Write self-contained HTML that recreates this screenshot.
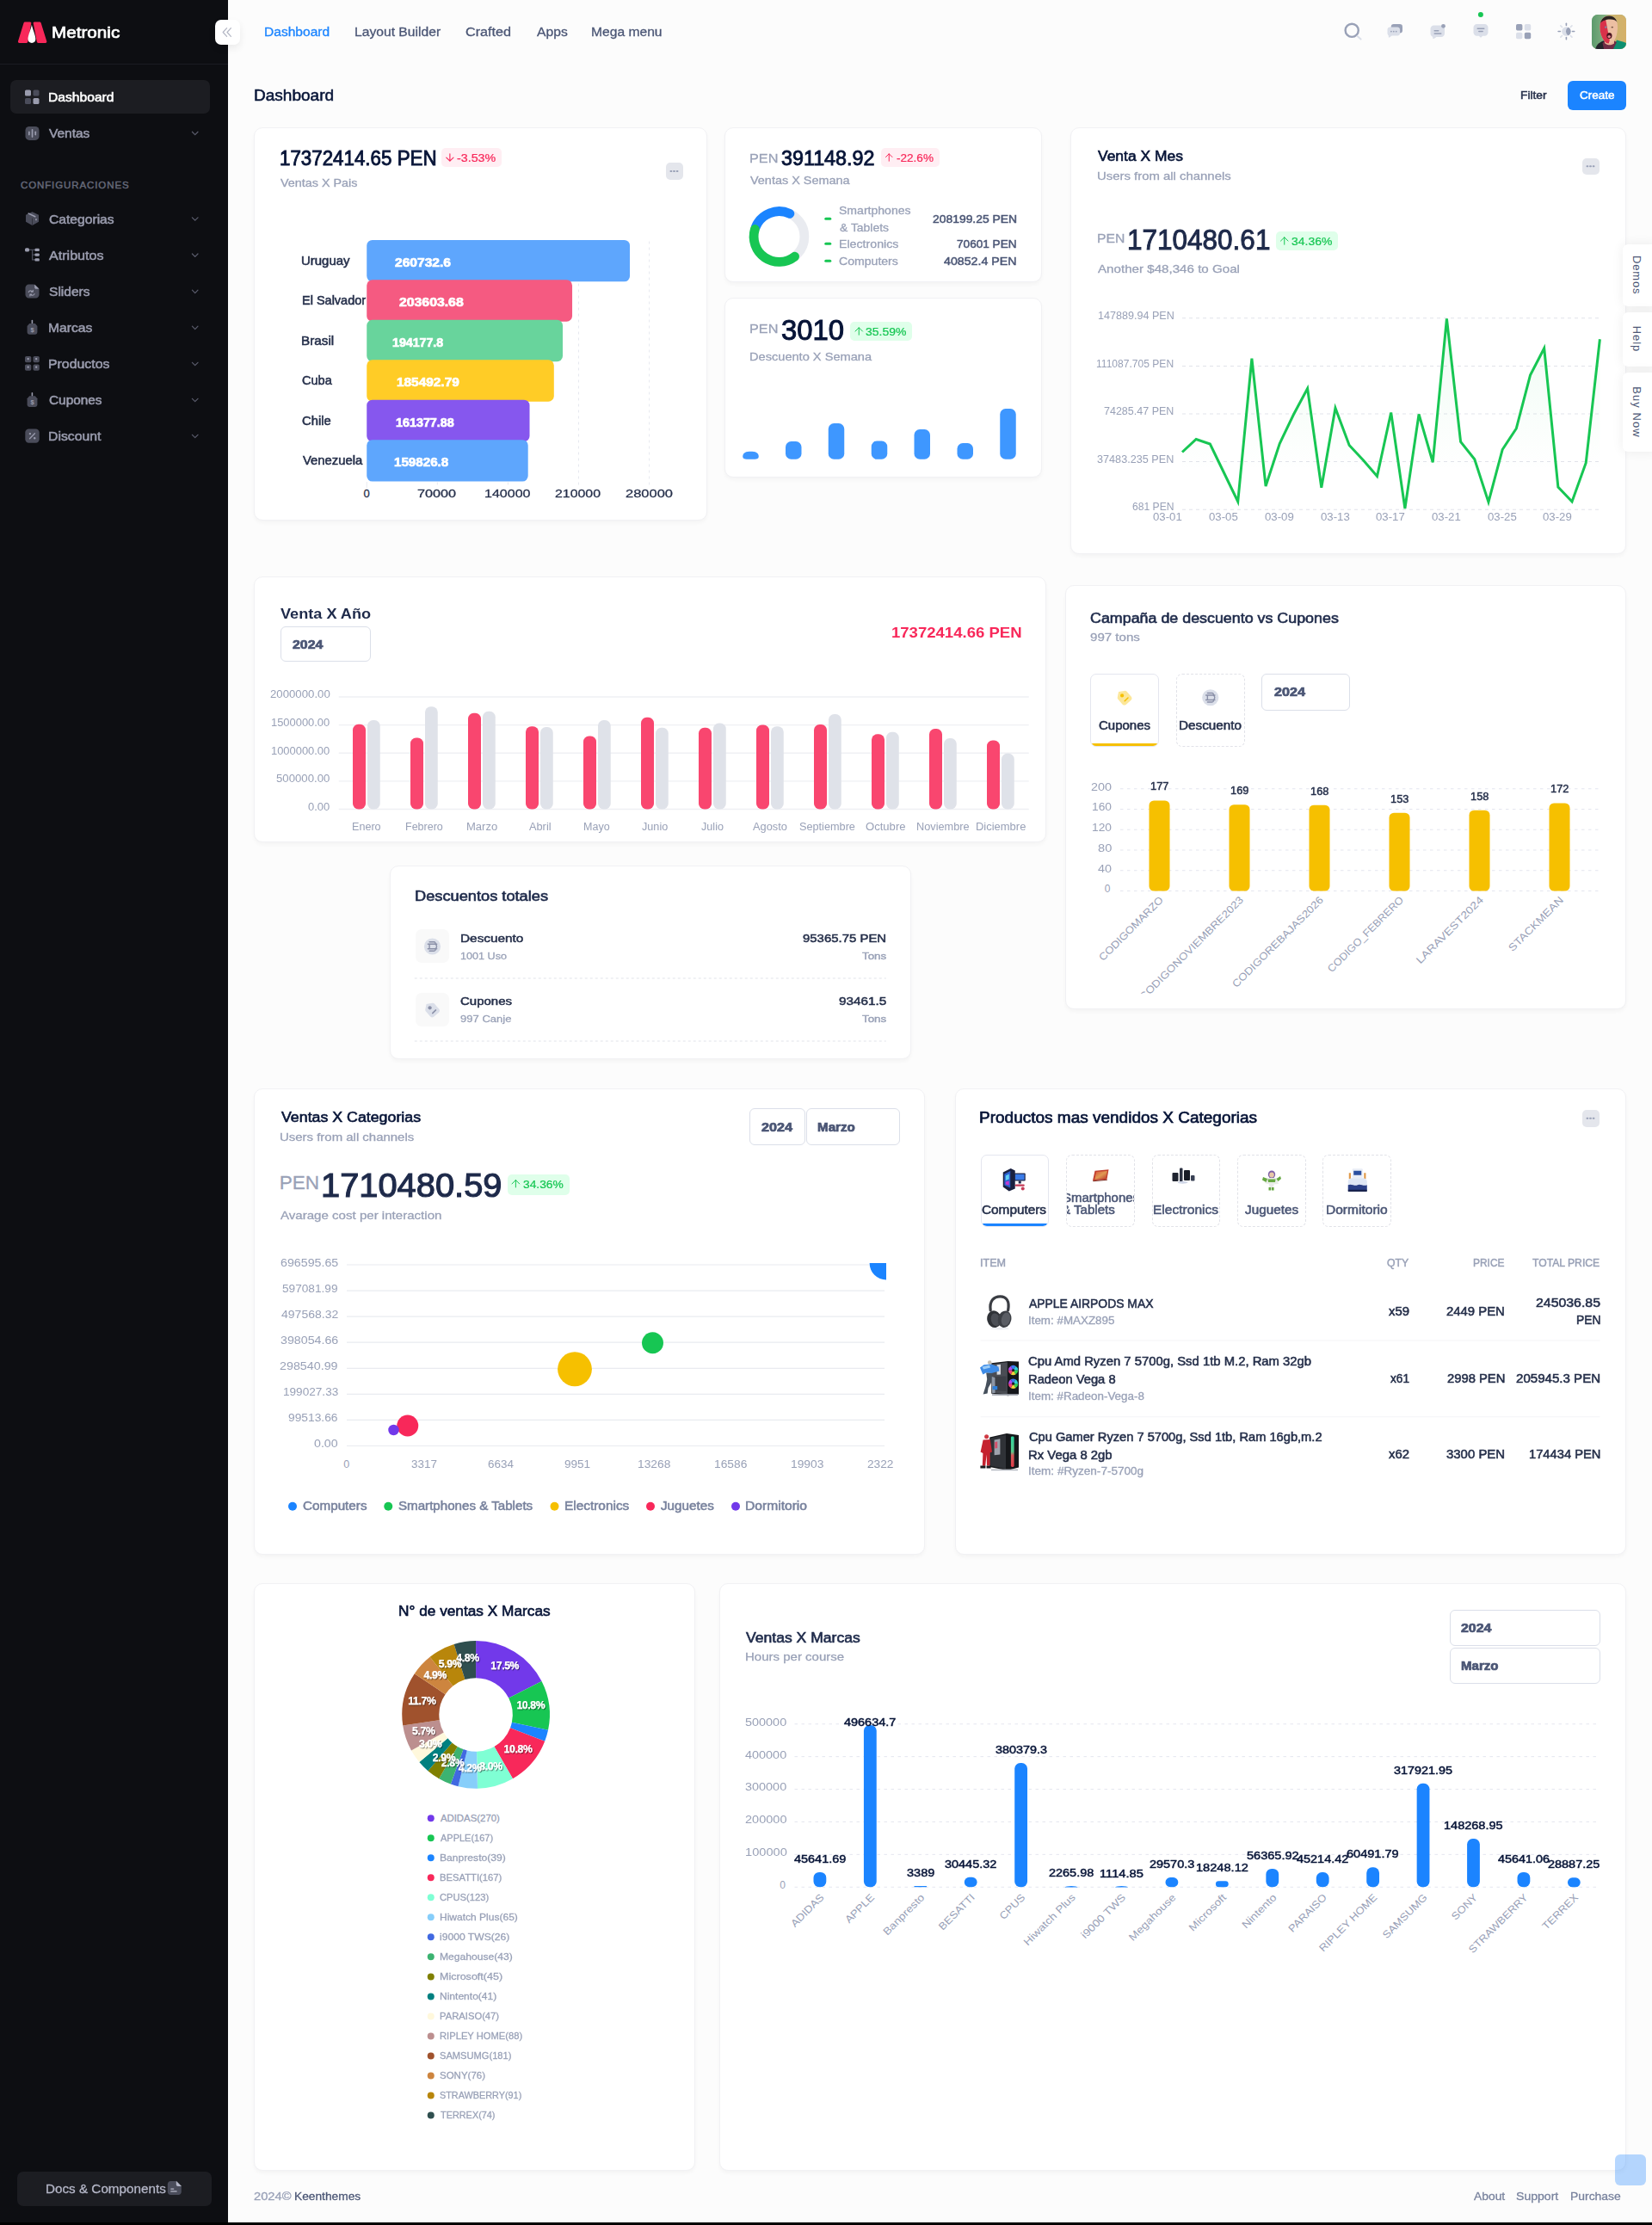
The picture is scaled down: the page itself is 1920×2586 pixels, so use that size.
<!DOCTYPE html>
<html lang="en">
<head>
<meta charset="utf-8">
<title>Metronic Dashboard</title>
<style>
*{box-sizing:border-box;margin:0;padding:0}
html,body{width:1920px;height:2586px;overflow:hidden}
body{font-family:"Liberation Sans",sans-serif;background:#fcfcfc;color:#071437;font-size:13px;position:relative}
.abs{position:absolute}
.t{position:absolute;white-space:nowrap;line-height:1;z-index:2}
#sidebar{position:absolute;left:0;top:0;width:265px;height:2583px;background:#0d0e12}
#bottomstrip{position:absolute;left:0;top:2583px;width:1920px;height:3px;background:#000}
.card{position:absolute;background:#fff;border:1px solid #f1f1f4;border-radius:10px;box-shadow:0 3px 4px 0 rgba(0,0,0,.03)}
svg{position:absolute;overflow:visible}
svg text{font-family:"Liberation Sans",sans-serif}
#gfx{left:0;top:0;z-index:1;pointer-events:none}
</style>
</head>
<body>
<div id="sidebar"></div>

<div class="card" style="left:295px;top:148px;width:527px;height:457px"></div>
<div class="card" style="left:842px;top:148px;width:369px;height:179.5px"></div>
<div class="card" style="left:842px;top:345.5px;width:369px;height:209.5px"></div>
<div class="card" style="left:1244px;top:148px;width:646px;height:495.5px"></div>
<div class="card" style="left:295px;top:670px;width:921px;height:309px"></div>
<div class="card" style="left:453px;top:1006px;width:606px;height:225px"></div>
<div class="card" style="left:1237.5px;top:680px;width:652.5px;height:492.5px"></div>
<div class="card" style="left:295px;top:1265px;width:780px;height:542px"></div>
<div class="card" style="left:1110px;top:1265px;width:780px;height:542px"></div>
<div class="card" style="left:295px;top:1840px;width:513px;height:682.5px"></div>
<div class="card" style="left:836px;top:1840px;width:1054px;height:682.5px"></div>
<div class="abs" style="left:0.00px;top:74.00px;width:265.00px;height:1.00px;background:#1b1c22;"></div>
<div class="abs" style="left:11.50px;top:93.00px;width:232.50px;height:38.75px;background:#1c1d22;border-radius:7px;"></div>
<div class="abs" style="left:20.00px;top:2524.00px;width:226.00px;height:40.00px;background:#1c1d22;border-radius:7px;"></div>
<div class="abs" style="left:250.00px;top:22.50px;width:29.00px;height:29.00px;background:#fff;border-radius:7px;box-shadow:0 4px 10px rgba(0,0,0,.07);z-index:3"></div>
<div class="abs" style="left:1850px;top:17px;width:40px;height:40px;border-radius:7px;overflow:hidden;background:#7fae7b"><svg width="40" height="40" style="left:0;top:0"><defs><linearGradient id="avg" x1="0" y1="0" x2="1" y2="0"><stop offset="0" stop-color="#5c9a6c"/><stop offset="0.38" stop-color="#83b083"/><stop offset="0.55" stop-color="#c9b572"/><stop offset="1" stop-color="#d6b068"/></linearGradient><clipPath id="avh"><path d="M9.5 16C9 7 13.5 1.6 20.3 1.6C27 1.6 30.6 7 30 16C29.6 22 28.5 27 26 30.5C24.5 32.6 22.5 33.6 20 33.6C17.5 33.6 15.5 32.4 14 30C11.5 26.5 9.8 21.5 9.5 16Z"/></clipPath></defs><rect width="40" height="40" fill="url(#avg)"/><path d="M4 40C6 34 10 31.5 15 30L20 36L20 40Z" fill="#24242b"/><path d="M40 40V33C36 31 32 30.5 29 29.5L24 40Z" fill="#0d8f70"/><path d="M15 30.5L26 30.5L29 32L25 40H14L12.5 33Z" fill="#6e2c45"/><path d="M14.5 27H26V33.5C23 36 18 36 15 33Z" fill="#e7b497"/><g clip-path="url(#avh)"><rect x="5" y="0" width="30" height="36" fill="#ecbfa2"/><path d="M5 0H17.5L16.2 6L20.8 30L19 36H5Z" fill="#d9324a"/><path d="M8 8C9 1 15 -1 21 0.5C27 1.5 31 5 31 11C29 6.8 25.5 5.4 21 5.6C16 5.8 12 7 8 12Z" fill="#2b2320"/></g><ellipse cx="20.4" cy="24.4" rx="3.1" ry="3.5" fill="#4a1420"/><ellipse cx="20.2" cy="25.6" rx="1.7" ry="1.5" fill="#e88a92"/><circle cx="16.3" cy="14.6" r="1.2" fill="#7a8aa8"/><ellipse cx="23.8" cy="14.6" rx="1.3" ry="0.9" fill="#7a5a48"/></svg></div>
<div class="abs" style="left:1822.00px;top:94.25px;width:68.00px;height:33.50px;background:#1b84ff;border-radius:6px;"></div>
<div class="abs" style="left:1886px;top:283.75px;width:40px;height:71.75px;background:#fff;border-radius:6px 0 0 6px;box-shadow:0 0 14px rgba(0,0,0,.07);z-index:5"></div>
<div class="abs" style="left:1886px;top:362.5px;width:40px;height:63.0px;background:#fff;border-radius:6px 0 0 6px;box-shadow:0 0 14px rgba(0,0,0,.07);z-index:5"></div>
<div class="abs" style="left:1886px;top:433px;width:40px;height:92px;background:#fff;border-radius:6px 0 0 6px;box-shadow:0 0 14px rgba(0,0,0,.07);z-index:5"></div>
<div class="abs" style="left:1877px;top:2504px;width:36px;height:36px;border-radius:6px;background:rgba(27,132,255,.32);z-index:5"></div>
<div class="abs" style="left:512.50px;top:172.25px;width:70.00px;height:22.00px;background:#ffeef3;border-radius:5px;"></div>
<div class="abs" style="left:773.50px;top:189.25px;width:20.00px;height:19.50px;background:#e4e6ec;border-radius:5px;"></div>
<div class="abs" style="left:1023.75px;top:172.25px;width:67.75px;height:22.00px;background:#ffeef3;border-radius:5px;"></div>
<div class="abs" style="left:988.25px;top:374.25px;width:71.25px;height:22.00px;background:#dfffea;border-radius:5px;"></div>
<div class="abs" style="left:1838.50px;top:183.75px;width:20.00px;height:19.00px;background:#e4e6ec;border-radius:5px;"></div>
<div class="abs" style="left:1482.75px;top:268.75px;width:71.75px;height:22.50px;background:#dfffea;border-radius:5px;"></div>
<div class="abs" style="left:325.50px;top:727.50px;width:105.00px;height:41.75px;background:#fff;border:1px solid #dbdfe9;border-radius:6px;"></div>
<div class="abs" style="left:483.00px;top:1080.00px;width:39.00px;height:39.00px;background:#f9f9f9;border-radius:7px;"></div>
<div class="abs" style="left:483.00px;top:1154.25px;width:39.00px;height:39.00px;background:#f9f9f9;border-radius:7px;"></div>
<div class="abs" style="left:1267px;top:783px;width:79.5px;height:85px;background:#fff;border:1px solid #e4e6ef;border-radius:7px;overflow:hidden"><div style="position:absolute;left:-1px;right:-1px;bottom:-1px;height:4.5px;background:#f6c000"></div></div>
<div class="abs" style="left:1367px;top:783px;width:80px;height:85px;background:#fff;border:1px dashed #e1e2e8;border-radius:7px"></div>
<div class="abs" style="left:1466.00px;top:783.00px;width:102.50px;height:43.00px;background:#fff;border:1px solid #dbdfe9;border-radius:6px;"></div>
<div class="abs" style="left:870.50px;top:1288.25px;width:65.00px;height:42.50px;background:#fff;border:1px solid #dbdfe9;border-radius:6px;"></div>
<div class="abs" style="left:936.75px;top:1288.25px;width:108.75px;height:42.50px;background:#fff;border:1px solid #dbdfe9;border-radius:6px;"></div>
<div class="abs" style="left:590.00px;top:1365.00px;width:71.75px;height:23.75px;background:#dfffea;border-radius:5px;"></div>
<div class="abs" style="left:1838.50px;top:1290.00px;width:20.00px;height:19.50px;background:#e4e6ec;border-radius:5px;"></div>
<div class="abs" style="left:1139.5px;top:1342px;width:79px;height:84px;background:#fff;border:1px solid #e4e6ef;border-radius:7px;overflow:hidden"><div style="position:absolute;left:-1px;right:-1px;bottom:-1px;height:4.5px;background:#1b84ff"></div></div>
<div class="abs" style="left:1239.25px;top:1342px;width:79.5px;height:84px;background:#fff;border:1px dashed #e1e2e8;border-radius:7px"></div>
<div class="abs" style="left:1338.75px;top:1342px;width:79.5px;height:84px;background:#fff;border:1px dashed #e1e2e8;border-radius:7px"></div>
<div class="abs" style="left:1438.25px;top:1342px;width:79.5px;height:84px;background:#fff;border:1px dashed #e1e2e8;border-radius:7px"></div>
<div class="abs" style="left:1537px;top:1342px;width:79.5px;height:84px;background:#fff;border:1px dashed #e1e2e8;border-radius:7px"></div>
<div class="abs" style="left:1684.50px;top:1870.50px;width:175.00px;height:42.75px;background:#fff;border:1px solid #dbdfe9;border-radius:6px;"></div>
<div class="abs" style="left:1684.50px;top:1914.50px;width:175.00px;height:42.00px;background:#fff;border:1px solid #dbdfe9;border-radius:6px;"></div>
<svg id="gfx" width="1920" height="2586" viewBox="0 0 1920 2586">
<path d="M29.3 25.4H34.9C35.9 25.4 36.5 26.2 36.3 27.1L32.4 48.6C32.2 49.4 31.6 49.9 30.8 49.9H22.4C21.4 49.9 20.7 49 21 48L27.6 26.6C27.8 25.9 28.5 25.4 29.3 25.4Z" fill="#f8285a"/><path d="M40.1 25.4H45.9C46.7 25.4 47.4 25.9 47.6 26.6L54.3 48C54.6 49 53.9 49.9 52.9 49.9H44.4C43.6 49.9 43 49.4 42.8 48.6L38.7 27.1C38.5 26.2 39.1 25.4 40.1 25.4Z" fill="#f8285a"/><path d="M36.9 28.6C37.6 33.5 41.4 41 41.4 45.3C41.4 48.2 39.5 49.9 37 49.9C34.5 49.9 32.5 48.2 32.5 45.3C32.5 41 36.2 33.5 36.9 28.6Z" fill="#ffffff"/>
<g transform="translate(29,104.5)"><rect x="0" y="0" width="7" height="7" rx="1.6" fill="#9a9cae"/><rect x="9.5" y="0" width="7" height="7" rx="1.6" fill="#4a4c5a"/><rect x="0" y="9.5" width="7" height="7" rx="1.6" fill="#4a4c5a"/><rect x="9.5" y="9.5" width="7" height="7" rx="1.6" fill="#9a9cae"/></g>
<path d="M223.40 153.25L226.70 156.65L230.00 153.25" fill="none" stroke="#5a5c6c" stroke-width="1.2" stroke-linecap="round" stroke-linejoin="round"/>
<path d="M223.40 252.80L226.70 256.20L230.00 252.80" fill="none" stroke="#5a5c6c" stroke-width="1.2" stroke-linecap="round" stroke-linejoin="round"/>
<path d="M223.40 295.00L226.70 298.40L230.00 295.00" fill="none" stroke="#5a5c6c" stroke-width="1.2" stroke-linecap="round" stroke-linejoin="round"/>
<path d="M223.40 337.20L226.70 340.60L230.00 337.20" fill="none" stroke="#5a5c6c" stroke-width="1.2" stroke-linecap="round" stroke-linejoin="round"/>
<path d="M223.40 379.20L226.70 382.60L230.00 379.20" fill="none" stroke="#5a5c6c" stroke-width="1.2" stroke-linecap="round" stroke-linejoin="round"/>
<path d="M223.40 421.30L226.70 424.70L230.00 421.30" fill="none" stroke="#5a5c6c" stroke-width="1.2" stroke-linecap="round" stroke-linejoin="round"/>
<path d="M223.40 463.30L226.70 466.70L230.00 463.30" fill="none" stroke="#5a5c6c" stroke-width="1.2" stroke-linecap="round" stroke-linejoin="round"/>
<path d="M223.40 505.30L226.70 508.70L230.00 505.30" fill="none" stroke="#5a5c6c" stroke-width="1.2" stroke-linecap="round" stroke-linejoin="round"/>
<g transform="translate(29,146.40)"><rect x="0.5" y="0.5" width="16" height="16" rx="4.5" fill="#4a4c5a"/><rect x="4" y="6" width="1.7" height="5" rx="0.8" fill="#9a9cae"/><rect x="7.7" y="3.5" width="1.7" height="10" rx="0.8" fill="#9a9cae"/><rect x="11.4" y="6" width="1.7" height="5" rx="0.8" fill="#9a9cae"/></g>
<g transform="translate(29,245.50)"><path d="M8.5 0.8L16 4.3V12.3L8.5 16.4L1 12.3V4.3Z" fill="#4a4c5a"/><path d="M4.2 2.6L11.8 6.3" stroke="#9a9cae" stroke-width="1.6" stroke-linecap="round"/><path d="M8.5 8.3V16.2" stroke="#2a2b33" stroke-width="0.8"/><rect x="12.2" y="8.6" width="1.5" height="2.2" rx="0.6" fill="#9a9cae"/></g>
<g transform="translate(29,288.10)"><rect x="0" y="0.2" width="5" height="4.2" rx="1.6" fill="#9a9cae"/><path d="M5 2.3H12M8.6 2.3V13.8H12M8.6 8H12" fill="none" stroke="#4a4c5a" stroke-width="1.3"/><rect x="11.5" y="0.6" width="5.3" height="3.4" rx="1.2" fill="#9a9cae"/><rect x="11.5" y="6.3" width="5.3" height="3.4" rx="1.2" fill="#9a9cae"/><rect x="11.5" y="12.1" width="5.3" height="3.4" rx="1.2" fill="#9a9cae"/></g>
<g transform="translate(29,330.00)"><path d="M4.5 0.5H10.5L16.5 6.5V12.5C16.5 14.7 14.7 16.5 12.5 16.5H4.5C2.3 16.5 0.5 14.7 0.5 12.5V4.5C0.5 2.3 2.3 0.5 4.5 0.5Z" fill="#4a4c5a"/><path d="M11.2 0.4L16.6 5.8H12.7C11.9 5.8 11.2 5.1 11.2 4.3Z" fill="#9a9cae"/><path d="M4.2 9.6C4.8 8.2 6.3 7.6 7.8 8.2L9.2 8.9M9.3 7.2V9.1H7.4M11 11.6C10.4 13 8.9 13.6 7.4 13L6 12.3M5.9 14V12.1H7.8" fill="none" stroke="#9a9cae" stroke-width="1.1" stroke-linecap="round" stroke-linejoin="round"/></g>
<g transform="translate(29,371.80)"><rect x="7.6" y="0" width="1.6" height="5" rx="0.8" fill="#9a9cae"/><path d="M5.2 4.2H11.8L14.4 7.2V14.2C14.4 15.7 13.2 16.9 11.7 16.9H5.3C3.8 16.9 2.6 15.7 2.6 14.2V7.2Z" fill="#4a4c5a"/><text x="8.5" y="14.3" font-size="7.5" font-weight="700" text-anchor="middle" fill="#9a9cae">$</text></g>
<g transform="translate(29,456.00)"><rect x="7.6" y="0" width="1.6" height="5" rx="0.8" fill="#9a9cae"/><path d="M5.2 4.2H11.8L14.4 7.2V14.2C14.4 15.7 13.2 16.9 11.7 16.9H5.3C3.8 16.9 2.6 15.7 2.6 14.2V7.2Z" fill="#4a4c5a"/><text x="8.5" y="14.3" font-size="7.5" font-weight="700" text-anchor="middle" fill="#9a9cae">$</text></g>
<g transform="translate(29,413.90)"><rect x="0" y="0" width="7.3" height="7.3" rx="1.7" fill="#4a4c5a"/><rect x="2.6" y="2.2" width="2.1" height="2.1" rx="0.6" fill="#9a9cae"/><rect x="9.5" y="0" width="7.3" height="7.3" rx="1.7" fill="#4a4c5a"/><rect x="12.1" y="2.2" width="2.1" height="2.1" rx="0.6" fill="#9a9cae"/><rect x="0" y="9.5" width="7.3" height="7.3" rx="1.7" fill="#4a4c5a"/><rect x="2.6" y="11.7" width="2.1" height="2.1" rx="0.6" fill="#9a9cae"/><rect x="9.5" y="9.5" width="7.3" height="7.3" rx="1.7" fill="#4a4c5a"/><rect x="12.1" y="11.7" width="2.1" height="2.1" rx="0.6" fill="#9a9cae"/></g>
<g transform="translate(29,498.10)"><rect x="0.3" y="0.3" width="16.4" height="16.4" rx="4.2" fill="#4a4c5a"/><path d="M5.6 11.6L11.4 5.6" stroke="#9a9cae" stroke-width="1.3" stroke-linecap="round"/><circle cx="5.9" cy="6" r="1.2" fill="#9a9cae"/><circle cx="11.2" cy="11.2" r="1.2" fill="#9a9cae"/></g>
<g transform="translate(194.8,2535)"><path d="M3.5 0H9.5L16 6.3V12.5C16 14.4 14.4 16 12.5 16H3.5C1.6 16 0 14.4 0 12.5V3.5C0 1.6 1.6 0 3.5 0Z" fill="#4a4c5a"/><path d="M10 -0.3L16.3 5.9H12C10.9 5.9 10 5 10 3.9Z" fill="#b5b7c8"/><rect x="3.4" y="8.4" width="4.2" height="1.3" rx="0.6" fill="#b5b7c8"/><rect x="3.4" y="11.2" width="7.5" height="1.3" rx="0.6" fill="#b5b7c8"/></g>
<circle cx="1571.2" cy="35.3" r="7.6" fill="none" stroke="#99a1b7" stroke-width="2.4"/><path d="M1577.6 42L1581.6 45.6" stroke="#dbdfe9" stroke-width="2" stroke-linecap="round"/>
<g transform="translate(1612.5,28)"><rect x="4.2" y="0" width="13.3" height="10.5" rx="3.2" fill="#99a1b7"/><path d="M3 3.4H11.6C13.3 3.4 14.6 4.7 14.6 6.4V10.6C14.6 12.3 13.3 13.6 11.6 13.6H5.2L2.4 15.6C1.9 15.9 1.3 15.6 1.3 15V13.2C0.5 12.7 0 11.7 0 10.6V6.4C0 4.7 1.3 3.4 3 3.4Z" fill="#dbdfe9"/><circle cx="4.4" cy="8.6" r="0.9" fill="#99a1b7"/><circle cx="7.3" cy="8.6" r="0.9" fill="#99a1b7"/><circle cx="10.2" cy="8.6" r="0.9" fill="#99a1b7"/></g>
<g transform="translate(1662.5,28)"><path d="M4 1.5H12.5C14.7 1.5 16.5 3.3 16.5 5.5V11C16.5 13.2 14.7 15 12.5 15H7L4 17C3.4 17.4 2.7 17 2.7 16.3V14.7C1.1 14.2 0 12.7 0 11V5.5C0 3.3 1.8 1.5 4 1.5Z" fill="#dbdfe9"/><circle cx="15" cy="2.3" r="2.4" fill="#99a1b7"/><rect x="4" y="7" width="6" height="1.5" rx="0.7" fill="#99a1b7"/><rect x="4" y="10.3" width="9" height="1.5" rx="0.7" fill="#99a1b7"/></g>
<g transform="translate(1712.5,28)"><path d="M4 0H13C15.2 0 17 1.8 17 4V9.8C17 12 15.2 13.8 13 13.8H10.6L8.9 15.6C8.7 15.8 8.3 15.8 8.1 15.6L6.4 13.8H4C1.8 13.8 0 12 0 9.8V4C0 1.8 1.8 0 4 0Z" fill="#dbdfe9"/><rect x="4" y="4.4" width="9" height="1.5" rx="0.7" fill="#99a1b7"/><rect x="5.6" y="7.7" width="5.8" height="1.5" rx="0.7" fill="#99a1b7"/></g>
<circle cx="1720.9" cy="17" r="3" fill="#17c653"/>
<g transform="translate(1762,28)"><rect x="0" y="0" width="7.4" height="7.4" rx="1.7" fill="#99a1b7"/><rect x="9.8" y="0" width="7.4" height="7.4" rx="1.7" fill="#dbdfe9"/><rect x="0" y="9.8" width="7.4" height="7.4" rx="1.7" fill="#dbdfe9"/><rect x="9.8" y="9.8" width="7.4" height="7.4" rx="1.7" fill="#99a1b7"/></g>
<circle cx="1820.4" cy="36.5" r="5.2" fill="#dbdfe9"/><path d="M1822.4 31.7A5.2 5.2 0 0 1 1822.4 41.3A6 6 0 0 1 1822.4 31.7Z" fill="#99a1b7"/><line x1="1827.40" y1="36.50" x2="1829.70" y2="36.50" stroke="#99a1b7" stroke-width="1.6" stroke-linecap="round"/><line x1="1825.35" y1="41.45" x2="1826.98" y2="43.08" stroke="#dbdfe9" stroke-width="1.6" stroke-linecap="round"/><line x1="1820.40" y1="43.50" x2="1820.40" y2="45.80" stroke="#99a1b7" stroke-width="1.6" stroke-linecap="round"/><line x1="1815.45" y1="41.45" x2="1813.82" y2="43.08" stroke="#dbdfe9" stroke-width="1.6" stroke-linecap="round"/><line x1="1813.40" y1="36.50" x2="1811.10" y2="36.50" stroke="#99a1b7" stroke-width="1.6" stroke-linecap="round"/><line x1="1815.45" y1="31.55" x2="1813.82" y2="29.92" stroke="#dbdfe9" stroke-width="1.6" stroke-linecap="round"/><line x1="1820.40" y1="29.50" x2="1820.40" y2="27.20" stroke="#99a1b7" stroke-width="1.6" stroke-linecap="round"/><line x1="1825.35" y1="31.55" x2="1826.98" y2="29.92" stroke="#dbdfe9" stroke-width="1.6" stroke-linecap="round"/>
<path d="M522.88 178.80V187.20M518.75 183.07L522.88 187.20L527.00 183.07" fill="none" stroke="#f8285a" stroke-width="1.1" stroke-linecap="round" stroke-linejoin="round"/>
<rect x="778.50" y="198.10" width="2.8" height="1.8" rx="0.9" fill="#99a1b7"/>
<rect x="782.10" y="198.10" width="2.8" height="1.8" rx="0.9" fill="#99a1b7"/>
<rect x="785.70" y="198.10" width="2.8" height="1.8" rx="0.9" fill="#99a1b7"/>
<line x1="508.30" y1="280.50" x2="508.30" y2="565.50" stroke="#e6e8ef" stroke-width="1" stroke-dasharray="3 4"/>
<line x1="590.40" y1="280.50" x2="590.40" y2="565.50" stroke="#e6e8ef" stroke-width="1" stroke-dasharray="3 4"/>
<line x1="672.50" y1="280.50" x2="672.50" y2="565.50" stroke="#e6e8ef" stroke-width="1" stroke-dasharray="3 4"/>
<line x1="754.65" y1="280.50" x2="754.65" y2="565.50" stroke="#e6e8ef" stroke-width="1" stroke-dasharray="3 4"/>
<line x1="426.25" y1="560.00" x2="426.25" y2="567.00" stroke="#e9ebf0" stroke-width="1"/>
<rect x="426.25" y="278.90" width="305.80" height="48.40" rx="6.5" ry="6.5" fill="#5ea6fd" />
<rect x="426.25" y="325.35" width="238.80" height="48.40" rx="6.5" ry="6.5" fill="#f55a81" />
<rect x="426.25" y="371.80" width="227.74" height="48.40" rx="6.5" ry="6.5" fill="#68d49c" />
<rect x="426.25" y="418.25" width="217.56" height="48.40" rx="6.5" ry="6.5" fill="#ffcc26" />
<rect x="426.25" y="464.70" width="189.27" height="48.40" rx="6.5" ry="6.5" fill="#8657ee" />
<rect x="426.25" y="511.15" width="187.45" height="48.40" rx="6.5" ry="6.5" fill="#5ea6fd" />
<path d="M1033.25 187.20V178.80M1029.50 182.55L1033.25 178.80L1037.00 182.55" fill="none" stroke="#f8285a" stroke-width="1.0" stroke-linecap="round" stroke-linejoin="round"/>
<circle cx="905.5" cy="275" r="29.4" fill="none" stroke="#e9ebf0" stroke-width="10.75"/>
<path d="M878.24 263.99A29.4 29.4 0 0 1 917.92 248.35" fill="none" stroke="#1b84ff" stroke-width="10.75" stroke-linecap="round"/>
<path d="M923.60 298.17A29.4 29.4 0 0 1 877.38 266.40" fill="none" stroke="#17c653" stroke-width="10.75" stroke-linecap="round"/>
<rect x="958.25" y="252.75" width="8.00" height="3.00" rx="1.5" ry="1.5" fill="#17c653" />
<rect x="958.25" y="281.75" width="8.00" height="3.00" rx="1.5" ry="1.5" fill="#17c653" />
<rect x="958.25" y="301.75" width="8.00" height="3.00" rx="1.5" ry="1.5" fill="#17c653" />
<path d="M998.25 389.20V380.80M994.00 385.05L998.25 380.80L1002.50 385.05" fill="none" stroke="#17c653" stroke-width="1.0" stroke-linecap="round" stroke-linejoin="round"/>
<path d="M863.25 530.75C863.25 525.75 867.25 524.75 872.50 524.75C877.75 524.75 881.75 525.75 881.75 530.75C881.75 532.95 879.75 533.75 877.25 533.75H867.75C865.25 533.75 863.25 532.95 863.25 530.75Z" fill="#3e97ff"/>
<rect x="913.00" y="513.00" width="18.50" height="20.75" rx="6.5" ry="6.5" fill="#3e97ff" />
<rect x="962.75" y="492.00" width="18.50" height="41.75" rx="6.5" ry="6.5" fill="#3e97ff" />
<rect x="1012.75" y="512.50" width="18.50" height="21.25" rx="6.5" ry="6.5" fill="#3e97ff" />
<rect x="1062.50" y="499.00" width="18.50" height="34.75" rx="6.5" ry="6.5" fill="#3e97ff" />
<rect x="1112.50" y="515.00" width="18.50" height="18.75" rx="6.5" ry="6.5" fill="#3e97ff" />
<rect x="1162.25" y="475.00" width="18.50" height="58.75" rx="6.5" ry="6.5" fill="#3e97ff" />
<rect x="1843.50" y="192.35" width="2.8" height="1.8" rx="0.9" fill="#99a1b7"/>
<rect x="1847.10" y="192.35" width="2.8" height="1.8" rx="0.9" fill="#99a1b7"/>
<rect x="1850.70" y="192.35" width="2.8" height="1.8" rx="0.9" fill="#99a1b7"/>
<path d="M1492.75 284.20V275.80M1488.50 280.05L1492.75 275.80L1497.00 280.05" fill="none" stroke="#17c653" stroke-width="1.0" stroke-linecap="round" stroke-linejoin="round"/>
<line x1="1374.00" y1="369.75" x2="1858.25" y2="369.75" stroke="#e1e3ea" stroke-width="1" stroke-dasharray="4 4"/>
<line x1="1374.00" y1="425.50" x2="1858.25" y2="425.50" stroke="#e1e3ea" stroke-width="1" stroke-dasharray="4 4"/>
<line x1="1374.00" y1="481.00" x2="1858.25" y2="481.00" stroke="#e1e3ea" stroke-width="1" stroke-dasharray="4 4"/>
<line x1="1374.00" y1="536.50" x2="1858.25" y2="536.50" stroke="#e1e3ea" stroke-width="1" stroke-dasharray="4 4"/>
<line x1="1374.00" y1="592.25" x2="1858.25" y2="592.25" stroke="#e1e3ea" stroke-width="1" stroke-dasharray="4 4"/>
<defs><linearGradient id="g4" x1="0" y1="0" x2="0" y2="1"><stop offset="0" stop-color="#17c653" stop-opacity="0.07"/><stop offset="0.8" stop-color="#17c653" stop-opacity="0"/></linearGradient></defs>
<path d="M1374.00 525.50L1390.18 510.50L1406.36 516.00L1422.54 549.50L1438.72 583.00L1454.90 416.75L1471.08 565.00L1487.26 515.50L1503.44 481.75L1519.62 451.50L1535.80 566.75L1551.98 474.25L1568.16 517.50L1584.34 534.75L1600.52 553.50L1616.70 479.50L1632.88 591.00L1649.06 481.50L1665.24 537.25L1681.42 370.50L1697.60 513.50L1713.78 533.75L1729.96 583.50L1746.14 522.50L1762.32 498.00L1778.50 436.00L1794.68 404.75L1810.86 566.00L1827.04 583.00L1843.22 538.00L1859.40 394.25L1859.40 592.25L1374 592.25Z" fill="url(#g4)"/>
<path d="M1374.00 525.50L1390.18 510.50L1406.36 516.00L1422.54 549.50L1438.72 583.00L1454.90 416.75L1471.08 565.00L1487.26 515.50L1503.44 481.75L1519.62 451.50L1535.80 566.75L1551.98 474.25L1568.16 517.50L1584.34 534.75L1600.52 553.50L1616.70 479.50L1632.88 591.00L1649.06 481.50L1665.24 537.25L1681.42 370.50L1697.60 513.50L1713.78 533.75L1729.96 583.50L1746.14 522.50L1762.32 498.00L1778.50 436.00L1794.68 404.75L1810.86 566.00L1827.04 583.00L1843.22 538.00L1859.40 394.25" fill="none" stroke="#17c653" stroke-width="3" stroke-linejoin="miter" stroke-linecap="butt"/>
<line x1="393.75" y1="810.00" x2="1195.75" y2="810.00" stroke="#eff0f4" stroke-width="1.4"/>
<line x1="393.75" y1="842.60" x2="1195.75" y2="842.60" stroke="#eff0f4" stroke-width="1.4"/>
<line x1="393.75" y1="875.30" x2="1195.75" y2="875.30" stroke="#eff0f4" stroke-width="1.4"/>
<line x1="393.75" y1="907.90" x2="1195.75" y2="907.90" stroke="#eff0f4" stroke-width="1.4"/>
<line x1="393.75" y1="940.50" x2="1195.75" y2="940.50" stroke="#eff0f4" stroke-width="1.4"/>
<rect x="427.00" y="837.00" width="14.75" height="103.50" rx="6.5" ry="6.5" fill="#dfe2e9" />
<rect x="410.00" y="841.75" width="15.00" height="98.75" rx="6.5" ry="6.5" fill="#f9466f" />
<rect x="494.00" y="821.25" width="14.75" height="119.25" rx="6.5" ry="6.5" fill="#dfe2e9" />
<rect x="477.00" y="857.50" width="15.00" height="83.00" rx="6.5" ry="6.5" fill="#f9466f" />
<rect x="561.00" y="826.75" width="14.75" height="113.75" rx="6.5" ry="6.5" fill="#dfe2e9" />
<rect x="544.00" y="828.75" width="15.00" height="111.75" rx="6.5" ry="6.5" fill="#f9466f" />
<rect x="628.00" y="845.00" width="14.75" height="95.50" rx="6.5" ry="6.5" fill="#dfe2e9" />
<rect x="611.00" y="844.25" width="15.00" height="96.25" rx="6.5" ry="6.5" fill="#f9466f" />
<rect x="695.00" y="837.00" width="14.75" height="103.50" rx="6.5" ry="6.5" fill="#dfe2e9" />
<rect x="678.00" y="855.50" width="15.00" height="85.00" rx="6.5" ry="6.5" fill="#f9466f" />
<rect x="762.00" y="845.75" width="14.75" height="94.75" rx="6.5" ry="6.5" fill="#dfe2e9" />
<rect x="745.00" y="833.75" width="15.00" height="106.75" rx="6.5" ry="6.5" fill="#f9466f" />
<rect x="829.00" y="840.50" width="14.75" height="100.00" rx="6.5" ry="6.5" fill="#dfe2e9" />
<rect x="812.00" y="845.75" width="15.00" height="94.75" rx="6.5" ry="6.5" fill="#f9466f" />
<rect x="896.00" y="844.25" width="14.75" height="96.25" rx="6.5" ry="6.5" fill="#dfe2e9" />
<rect x="879.00" y="842.50" width="15.00" height="98.00" rx="6.5" ry="6.5" fill="#f9466f" />
<rect x="963.00" y="830.00" width="14.75" height="110.50" rx="6.5" ry="6.5" fill="#dfe2e9" />
<rect x="946.00" y="842.00" width="15.00" height="98.50" rx="6.5" ry="6.5" fill="#f9466f" />
<rect x="1030.00" y="850.75" width="14.75" height="89.75" rx="6.5" ry="6.5" fill="#dfe2e9" />
<rect x="1013.00" y="853.25" width="15.00" height="87.25" rx="6.5" ry="6.5" fill="#f9466f" />
<rect x="1097.00" y="858.00" width="14.75" height="82.50" rx="6.5" ry="6.5" fill="#dfe2e9" />
<rect x="1080.00" y="847.00" width="15.00" height="93.50" rx="6.5" ry="6.5" fill="#f9466f" />
<rect x="1164.00" y="875.75" width="14.75" height="64.75" rx="6.5" ry="6.5" fill="#dfe2e9" />
<rect x="1147.00" y="860.50" width="15.00" height="80.00" rx="6.5" ry="6.5" fill="#f9466f" />
<line x1="481.75" y1="1137.00" x2="1029.75" y2="1137.00" stroke="#e1e3ea" stroke-width="1" stroke-dasharray="3 3"/>
<line x1="481.75" y1="1210.00" x2="1029.75" y2="1210.00" stroke="#e1e3ea" stroke-width="1" stroke-dasharray="3 3"/>
<g transform="translate(502.5,1100)"><circle r="9.6" fill="#dbdfe9"/><path d="M-5.2 -2.7H5.2M-5.2 2.7H5.2M-3.4 -2.7V2.7M3.4 -2.7C5.6 -1.6 5.6 1.6 3.4 2.7M-3.4 -5.3H1.8C3.3 -5.3 4 -4 3.4 -2.7M-3.4 5.3H1.8C3.3 5.3 4 4 3.4 2.7" fill="none" stroke="#8a90a8" stroke-width="1.4" stroke-linecap="round"/></g>
<g transform="translate(502.5,1173.9)"><path d="M-7.4 -6.5L-0.6 -8.1C0.4 -8.3 1.4 -8 2.1 -7.3L7.7 -1.7C8.8 -0.6 8.8 1.2 7.7 2.3L2.2 7.8C1.1 8.9 -0.7 8.9 -1.8 7.8L-7.4 2.2C-8.1 1.5 -8.4 0.5 -8.2 -0.5Z" fill="#dbdfe9" transform="rotate(4)"/><circle cx="-2.9" cy="-2.6" r="2.1" fill="#8a90a8"/><path d="M0.2 3.7L4 0" stroke="#8a90a8" stroke-width="1.5" stroke-linecap="round"/></g>
<g transform="translate(1307,811)"><path d="M-7.4 -6.5L-0.6 -8.1C0.4 -8.3 1.4 -8 2.1 -7.3L7.7 -1.7C8.8 -0.6 8.8 1.2 7.7 2.3L2.2 7.8C1.1 8.9 -0.7 8.9 -1.8 7.8L-7.4 2.2C-8.1 1.5 -8.4 0.5 -8.2 -0.5Z" fill="#fce79a" transform="rotate(4)"/><circle cx="-2.9" cy="-2.6" r="2.1" fill="#f6c000"/><path d="M0.2 3.7L4 0" stroke="#f6c000" stroke-width="1.5" stroke-linecap="round"/></g>
<g transform="translate(1406.75,810.75)"><circle r="9.6" fill="#dbdfe9"/><path d="M-5.2 -2.7H5.2M-5.2 2.7H5.2M-3.4 -2.7V2.7M3.4 -2.7C5.6 -1.6 5.6 1.6 3.4 2.7M-3.4 -5.3H1.8C3.3 -5.3 4 -4 3.4 -2.7M-3.4 5.3H1.8C3.3 5.3 4 4 3.4 2.7" fill="none" stroke="#8a90a8" stroke-width="1.4" stroke-linecap="round"/></g>
<line x1="1302.00" y1="916.75" x2="1858.25" y2="916.75" stroke="#e4e6ef" stroke-width="1" stroke-dasharray="3.5 4.5"/>
<line x1="1302.00" y1="940.50" x2="1858.25" y2="940.50" stroke="#e4e6ef" stroke-width="1" stroke-dasharray="3.5 4.5"/>
<line x1="1302.00" y1="964.25" x2="1858.25" y2="964.25" stroke="#e4e6ef" stroke-width="1" stroke-dasharray="3.5 4.5"/>
<line x1="1302.00" y1="988.00" x2="1858.25" y2="988.00" stroke="#e4e6ef" stroke-width="1" stroke-dasharray="3.5 4.5"/>
<line x1="1302.00" y1="1011.75" x2="1858.25" y2="1011.75" stroke="#e4e6ef" stroke-width="1" stroke-dasharray="3.5 4.5"/>
<line x1="1302.00" y1="1035.50" x2="1858.25" y2="1035.50" stroke="#e4e6ef" stroke-width="1" stroke-dasharray="3.5 4.5"/>
<defs><clipPath id="clip7"><rect x="1240" y="1036" width="640" height="119"/></clipPath></defs>
<rect x="1335.50" y="930.41" width="24.00" height="105.09" rx="5.5" ry="5.5" fill="#f6c000" />
<g clip-path="url(#clip7)">
<text x="1352.80" y="1046.75" text-anchor="end" font-size="12" fill="#99a1b7" textLength="100.00" lengthAdjust="spacingAndGlyphs" transform="rotate(-45 1352.80 1046.75)">CODIGOMARZO</text>
</g>
<rect x="1428.50" y="935.16" width="24.00" height="100.34" rx="5.5" ry="5.5" fill="#f6c000" />
<g clip-path="url(#clip7)">
<text x="1445.80" y="1046.75" text-anchor="end" font-size="12" fill="#99a1b7" textLength="165.00" lengthAdjust="spacingAndGlyphs" transform="rotate(-45 1445.80 1046.75)">CODIGONOVIEMBRE2023</text>
</g>
<rect x="1521.50" y="935.75" width="24.00" height="99.75" rx="5.5" ry="5.5" fill="#f6c000" />
<g clip-path="url(#clip7)">
<text x="1538.80" y="1046.75" text-anchor="end" font-size="12" fill="#99a1b7" textLength="144.00" lengthAdjust="spacingAndGlyphs" transform="rotate(-45 1538.80 1046.75)">CODIGOREBAJAS2026</text>
</g>
<rect x="1614.50" y="944.66" width="24.00" height="90.84" rx="5.5" ry="5.5" fill="#f6c000" />
<g clip-path="url(#clip7)">
<text x="1631.80" y="1046.75" text-anchor="end" font-size="12" fill="#99a1b7" textLength="118.80" lengthAdjust="spacingAndGlyphs" transform="rotate(-45 1631.80 1046.75)">CODIGO_FEBRERO</text>
</g>
<rect x="1707.50" y="941.69" width="24.00" height="93.81" rx="5.5" ry="5.5" fill="#f6c000" />
<g clip-path="url(#clip7)">
<text x="1724.80" y="1046.75" text-anchor="end" font-size="12" fill="#99a1b7" textLength="104.80" lengthAdjust="spacingAndGlyphs" transform="rotate(-45 1724.80 1046.75)">LARAVEST2024</text>
</g>
<rect x="1800.50" y="933.38" width="24.00" height="102.12" rx="5.5" ry="5.5" fill="#f6c000" />
<g clip-path="url(#clip7)">
<text x="1817.80" y="1046.75" text-anchor="end" font-size="12" fill="#99a1b7" textLength="84.50" lengthAdjust="spacingAndGlyphs" transform="rotate(-45 1817.80 1046.75)">STACKMEAN</text>
</g>
<path d="M599.38 1379.95V1371.55M595.00 1375.92L599.38 1371.55L603.75 1375.92" fill="none" stroke="#17c653" stroke-width="1.0" stroke-linecap="round" stroke-linejoin="round"/>
<line x1="403.00" y1="1470.00" x2="1028.00" y2="1470.00" stroke="#e9ebf0" stroke-width="1.2"/>
<line x1="403.00" y1="1500.07" x2="1028.00" y2="1500.07" stroke="#e9ebf0" stroke-width="1.2"/>
<line x1="403.00" y1="1530.14" x2="1028.00" y2="1530.14" stroke="#e9ebf0" stroke-width="1.2"/>
<line x1="403.00" y1="1560.21" x2="1028.00" y2="1560.21" stroke="#e9ebf0" stroke-width="1.2"/>
<line x1="403.00" y1="1590.28" x2="1028.00" y2="1590.28" stroke="#e9ebf0" stroke-width="1.2"/>
<line x1="403.00" y1="1620.35" x2="1028.00" y2="1620.35" stroke="#e9ebf0" stroke-width="1.2"/>
<line x1="403.00" y1="1650.42" x2="1028.00" y2="1650.42" stroke="#e9ebf0" stroke-width="1.2"/>
<line x1="403.00" y1="1680.49" x2="1028.00" y2="1680.49" stroke="#e9ebf0" stroke-width="1.2"/>
<defs><clipPath id="clip8"><rect x="390" y="1468" width="640" height="250"/></clipPath><clipPath id="clip8b"><rect x="390" y="1690" width="648" height="30"/></clipPath></defs>
<circle cx="1030" cy="1468" r="19.4" fill="#1b84ff" clip-path="url(#clip8)"/>
<circle cx="758.5" cy="1560.75" r="12.5" fill="#17c653"/>
<circle cx="668" cy="1591.25" r="19.9" fill="#f6c000"/>
<circle cx="473.75" cy="1657" r="12.5" fill="#f8285a"/>
<circle cx="457.5" cy="1662" r="6.25" fill="#7239ea"/>
<circle cx="340" cy="1750.75" r="5" fill="#1b84ff"/>
<circle cx="451.25" cy="1750.75" r="5" fill="#17c653"/>
<circle cx="644.5" cy="1750.75" r="5" fill="#f6c000"/>
<circle cx="756" cy="1750.75" r="5" fill="#f8285a"/>
<circle cx="855" cy="1750.75" r="5" fill="#7239ea"/>
<rect x="1843.50" y="1298.85" width="2.8" height="1.8" rx="0.9" fill="#99a1b7"/>
<rect x="1847.10" y="1298.85" width="2.8" height="1.8" rx="0.9" fill="#99a1b7"/>
<rect x="1850.70" y="1298.85" width="2.8" height="1.8" rx="0.9" fill="#99a1b7"/>
<g transform="translate(1163.75,1357.5)"><path d="M2 5L11 0.5L16 3V24L9 27L2 22Z" fill="#1a2140"/><path d="M3.5 7L10.5 3.5V23L3.5 20Z" fill="#2b5fd0"/><path d="M5 9L9 7V13L5 14.5Z" fill="#5fd0f5"/><path d="M5 16L9 15V20L5 19Z" fill="#c23bd0"/><rect x="15" y="6" width="13" height="9" rx="1" fill="#20284a"/><rect x="16.2" y="7.2" width="10.6" height="6.6" fill="#3a7be8"/><rect x="20" y="15" width="3" height="3" fill="#20284a"/><rect x="16" y="19" width="11" height="2.2" rx="1" fill="#c43b57"/><circle cx="25" cy="24" r="2" fill="#c43b57"/></g>
<g transform="translate(1269.5,1358.75)"><defs><linearGradient id="tabg" x1="0" y1="0" x2="1" y2="1"><stop offset="0" stop-color="#d8503a"/><stop offset="0.5" stop-color="#e09a52"/><stop offset="1" stop-color="#b8382e"/></linearGradient></defs><path d="M3 2L19 0.5L17 12L0.5 13.5Z" fill="#c2402e"/><path d="M4.6 3.3L17.4 2.2L15.8 10.8L2.8 12Z" fill="url(#tabg)"/><path d="M0.5 13.5L17 12L17.5 13L1 14.5Z" fill="#7a2b1f"/></g>
<g transform="translate(1362.5,1357)"><rect x="0" y="6" width="7" height="10" rx="1" fill="#1f2430"/><rect x="8.5" y="0.5" width="3.5" height="16" rx="1" fill="#2a3040"/><rect x="13.5" y="3" width="7" height="12" rx="1" fill="#171b25"/><rect x="21.5" y="9" width="4.5" height="6.5" rx="1" fill="#394155"/><ellipse cx="12" cy="17.3" rx="6" ry="1.5" fill="#cfd6e6"/></g>
<g transform="translate(1467,1360)"><ellipse cx="11" cy="5" rx="4.2" ry="4.6" fill="#7d5fa8"/><ellipse cx="11" cy="5.6" rx="2.8" ry="3" fill="#e8c8a8"/><path d="M5 9L17 9L19 16L13.5 16.5L12.5 23H8.5L8 16.5L3 15Z" fill="#e9ece8"/><path d="M6.5 10.5H15.5L15 14H7Z" fill="#67a843"/><path d="M1 8L6 10L4.5 14L0 11.5ZM21 7L16.5 10L18.5 13L22 10Z" fill="#67a843"/><rect x="7.5" y="20" width="2.6" height="3.5" fill="#67a843"/><rect x="11" y="20" width="2.6" height="3.5" fill="#67a843"/></g>
<g transform="translate(1565.75,1356.25)"><rect x="6" y="2" width="12" height="11" rx="1" fill="#e9edf6"/><rect x="7.5" y="4.5" width="9" height="5" fill="#2b4fa0"/><rect x="2" y="7" width="2.2" height="7" fill="#e09a4a"/><rect x="19.5" y="7" width="2.2" height="7" fill="#e09a4a"/><path d="M1 17C1 14 4 12.5 8 13H16C20 12.5 23 14 23 17V26H1Z" fill="#dfe7f5"/><path d="M1 21C5 19 9 23 12 21C15 19 19 23 23 21V27.5H1Z" fill="#2a3f86"/><rect x="1" y="26.5" width="22" height="2.2" fill="#16204a"/></g>
<line x1="1139.50" y1="1558.00" x2="1859.50" y2="1558.00" stroke="#f4f4f7" stroke-width="1"/>
<line x1="1139.50" y1="1646.75" x2="1859.50" y2="1646.75" stroke="#f4f4f7" stroke-width="1"/>
<path d="M1151.2 1523C1149.6 1512 1155 1506.8 1162.5 1506.8C1169.6 1506.8 1173.6 1512 1171.6 1523" fill="none" stroke="#3a3d43" stroke-width="3.2" stroke-linecap="round"/><ellipse cx="1155.6" cy="1533.2" rx="8.3" ry="9.9" fill="#2f3237" transform="rotate(-14 1155.6 1533.2)"/><ellipse cx="1157" cy="1533.8" rx="5.2" ry="7.4" fill="#4b4e55" transform="rotate(-14 1157 1533.8)"/><ellipse cx="1167.6" cy="1533.2" rx="7.7" ry="9.9" fill="#3c3f45" transform="rotate(14 1167.6 1533.2)"/><ellipse cx="1168.9" cy="1533.2" rx="5" ry="7.8" fill="#5a5d64" transform="rotate(14 1168.9 1533.2)"/><ellipse cx="1162" cy="1544.2" rx="11" ry="1.3" fill="#eceef2"/>
<path d="M1152.3 1584.2L1171.5 1582L1184 1582.6V1620.6L1171.5 1622.2L1152.3 1619.8Z" fill="#15171b"/><path d="M1153 1585.4L1170.8 1583.3V1620.6L1153 1618.8Z" fill="#4a4d54"/><path d="M1158.6 1586.2L1163 1585.7V1597.5L1158.6 1597.8Z" fill="#d5d9e0"/><path d="M1154 1600L1169.5 1599.5V1617L1154 1616Z" fill="#3c3f46"/><rect x="1153" y="1620.2" width="30" height="1.8" fill="#a9adb6"/><path d="M1177.60 1592.60L1183.30 1592.60A5.7 5.7 0 0 1 1180.45 1597.54Z" fill="#39d353"/><path d="M1177.60 1592.60L1180.45 1597.54A5.7 5.7 0 0 1 1174.75 1597.54Z" fill="#f2d43a"/><path d="M1177.60 1592.60L1174.75 1597.54A5.7 5.7 0 0 1 1171.90 1592.60Z" fill="#f0457a"/><path d="M1177.60 1592.60L1171.90 1592.60A5.7 5.7 0 0 1 1174.75 1587.66Z" fill="#b04af0"/><path d="M1177.60 1592.60L1174.75 1587.66A5.7 5.7 0 0 1 1180.45 1587.66Z" fill="#3f7af5"/><path d="M1177.60 1592.60L1180.45 1587.66A5.7 5.7 0 0 1 1183.30 1592.60Z" fill="#2fd0d8"/><circle cx="1177.6" cy="1592.6" r="1.60" fill="#1a1b20"/><path d="M1177.60 1608.20L1183.30 1608.20A5.7 5.7 0 0 1 1180.45 1613.14Z" fill="#39d353"/><path d="M1177.60 1608.20L1180.45 1613.14A5.7 5.7 0 0 1 1174.75 1613.14Z" fill="#f2d43a"/><path d="M1177.60 1608.20L1174.75 1613.14A5.7 5.7 0 0 1 1171.90 1608.20Z" fill="#f0457a"/><path d="M1177.60 1608.20L1171.90 1608.20A5.7 5.7 0 0 1 1174.75 1603.26Z" fill="#b04af0"/><path d="M1177.60 1608.20L1174.75 1603.26A5.7 5.7 0 0 1 1180.45 1603.26Z" fill="#3f7af5"/><path d="M1177.60 1608.20L1180.45 1603.26A5.7 5.7 0 0 1 1183.30 1608.20Z" fill="#2fd0d8"/><circle cx="1177.6" cy="1608.2" r="1.60" fill="#1a1b20"/><circle cx="1150.2" cy="1583.6" r="2.3" fill="#c8c0b2"/><path d="M1139 1589.5L1143.5 1586.2L1152 1585.4L1160.5 1588.4L1161.4 1593.4L1152.5 1596L1146 1595.6L1142.3 1597.6Z" fill="#3d8be6"/><path d="M1141.5 1588.6L1150 1586.6L1151 1589.6L1143 1591.6Z" fill="#9acbf7"/><path d="M1146.2 1595.6L1153.4 1596L1152.6 1606L1148.6 1613L1147.6 1619.6L1142.6 1620.6L1145.6 1611L1147.2 1603Z" fill="#46505c"/><path d="M1152.8 1600L1156.4 1601L1156.6 1619L1153.2 1619.6L1152.6 1609Z" fill="#8d97a6"/><rect x="1153.6" y="1611" width="5.6" height="4.2" fill="#2f7fd8"/>
<defs><linearGradient id="strip9" x1="0" y1="0" x2="0" y2="1"><stop offset="0" stop-color="#2fd6a0"/><stop offset="0.5" stop-color="#57c98a"/><stop offset="0.62" stop-color="#d85a5a"/><stop offset="1" stop-color="#e03d4a"/></linearGradient></defs><path d="M1150.2 1670.4L1170 1666L1184 1668V1705.6L1170.6 1709L1150.2 1705Z" fill="#15171a"/><path d="M1151.2 1671.4L1169 1667.6V1707.4L1151.2 1703.8Z" fill="#2f3237"/><path d="M1155.6 1673.6L1162.4 1672.2V1690.5L1155.6 1691.2Z" fill="#9ea3ad"/><path d="M1156.2 1676L1159.2 1675.4V1683L1156.2 1683.4Z" fill="#d2506a"/><rect x="1174.9" y="1669.4" width="3.7" height="35.6" rx="1.4" fill="url(#strip9)"/><rect x="1152" y="1707.6" width="31" height="1.6" fill="#b4b8c0"/><circle cx="1146.6" cy="1669.8" r="2.5" fill="#cf3a44"/><path d="M1142.6 1673.4L1150.8 1673L1153 1687.4L1150.6 1688.6L1150.6 1703.4H1147L1146.6 1690.6L1145.2 1703.8H1141.8L1142.4 1689L1139.6 1687.6Z" fill="#c5222f"/><path d="M1139.4 1703.6H1145.4V1706.6H1139.4ZM1146.6 1703.4H1151.6V1706.4H1146.6Z" fill="#1c1c1e"/>
<defs><filter id="pds" x="-20%" y="-20%" width="150%" height="160%"><feDropShadow dx="0.9" dy="1.1" stdDeviation="0.7" flood-color="#000" flood-opacity="0.5"/></filter></defs>
<path d="M553.10 1907.10A85.8 85.8 0 0 1 629.54 1953.94L591.19 1973.49A42.75 42.75 0 0 0 553.10 1950.15Z" fill="#7239ea"/>
<path d="M629.54 1953.94A85.8 85.8 0 0 1 637.04 2010.68L594.92 2001.76A42.75 42.75 0 0 0 591.19 1973.49Z" fill="#17c653"/>
<path d="M637.04 2010.68A85.8 85.8 0 0 1 633.17 2023.73L593.00 2008.26A42.75 42.75 0 0 0 594.92 2001.76Z" fill="#1b84ff"/>
<path d="M633.17 2023.73A85.8 85.8 0 0 1 595.97 2067.22L574.46 2029.93A42.75 42.75 0 0 0 593.00 2008.26Z" fill="#f8285a"/>
<path d="M595.97 2067.22A85.8 85.8 0 0 1 555.02 2078.68L554.06 2035.64A42.75 42.75 0 0 0 574.46 2029.93Z" fill="#7fffd4"/>
<path d="M555.02 2078.68A85.8 85.8 0 0 1 532.51 2076.19L542.84 2034.40A42.75 42.75 0 0 0 554.06 2035.64Z" fill="#87cefa"/>
<path d="M532.51 2076.19A85.8 85.8 0 0 1 523.83 2073.55L538.51 2033.09A42.75 42.75 0 0 0 542.84 2034.40Z" fill="#4169e1"/>
<path d="M523.83 2073.55A85.8 85.8 0 0 1 510.23 2067.22L531.74 2029.93A42.75 42.75 0 0 0 538.51 2033.09Z" fill="#3cb371"/>
<path d="M510.23 2067.22A85.8 85.8 0 0 1 497.40 2058.16L525.35 2025.42A42.75 42.75 0 0 0 531.74 2029.93Z" fill="#808000"/>
<path d="M497.40 2058.16A85.8 85.8 0 0 1 487.33 2048.00L520.33 2020.35A42.75 42.75 0 0 0 525.35 2025.42Z" fill="#008080"/>
<path d="M487.33 2048.00A85.8 85.8 0 0 1 478.05 2034.48L515.71 2013.62A42.75 42.75 0 0 0 520.33 2020.35Z" fill="#fff8dc"/>
<path d="M478.05 2034.48A85.8 85.8 0 0 1 468.23 2005.52L510.81 1999.19A42.75 42.75 0 0 0 515.71 2013.62Z" fill="#bc8f8f"/>
<path d="M468.23 2005.52A85.8 85.8 0 0 1 481.78 1945.20L517.56 1969.14A42.75 42.75 0 0 0 510.81 1999.19Z" fill="#a0522d"/>
<path d="M481.78 1945.20A85.8 85.8 0 0 1 499.69 1925.75L526.49 1959.44A42.75 42.75 0 0 0 517.56 1969.14Z" fill="#cd853f"/>
<path d="M499.69 1925.75A85.8 85.8 0 0 1 527.64 1910.97L540.41 1952.08A42.75 42.75 0 0 0 526.49 1959.44Z" fill="#b8860b"/>
<path d="M527.64 1910.97A85.8 85.8 0 0 1 553.10 1907.10L553.10 1950.15A42.75 42.75 0 0 0 540.41 1952.08Z" fill="#2f4f4f"/>
<text x="586.69" y="1940.07" text-anchor="middle" font-size="12.2" font-weight="bold" fill="#fff" stroke="#fff" stroke-width="0.25" letter-spacing="-0.35" filter="url(#pds)">17.5%</text>
<text x="616.85" y="1986.48" text-anchor="middle" font-size="12.2" font-weight="bold" fill="#fff" stroke="#fff" stroke-width="0.25" letter-spacing="-0.35" filter="url(#pds)">10.8%</text>
<text x="601.97" y="2036.69" text-anchor="middle" font-size="12.2" font-weight="bold" fill="#fff" stroke="#fff" stroke-width="0.25" letter-spacing="-0.35" filter="url(#pds)">10.8%</text>
<text x="570.43" y="2056.82" text-anchor="middle" font-size="12.2" font-weight="bold" fill="#fff" stroke="#fff" stroke-width="0.25" letter-spacing="-0.35" filter="url(#pds)">8.0%</text>
<text x="546.04" y="2058.81" text-anchor="middle" font-size="12.2" font-weight="bold" fill="#fff" stroke="#fff" stroke-width="0.25" letter-spacing="-0.35" filter="url(#pds)">4.2%</text>
<text x="525.96" y="2053.19" text-anchor="middle" font-size="12.2" font-weight="bold" fill="#fff" stroke="#fff" stroke-width="0.25" letter-spacing="-0.35" filter="url(#pds)">2.8%</text>
<text x="516.01" y="2047.42" text-anchor="middle" font-size="12.2" font-weight="bold" fill="#fff" stroke="#fff" stroke-width="0.25" letter-spacing="-0.35" filter="url(#pds)">2.9%</text>
<text x="500.09" y="2031.29" text-anchor="middle" font-size="12.2" font-weight="bold" fill="#fff" stroke="#fff" stroke-width="0.25" letter-spacing="-0.35" filter="url(#pds)">3.0%</text>
<text x="492.20" y="2015.54" text-anchor="middle" font-size="12.2" font-weight="bold" fill="#fff" stroke="#fff" stroke-width="0.25" letter-spacing="-0.35" filter="url(#pds)">5.7%</text>
<text x="490.36" y="1980.81" text-anchor="middle" font-size="12.2" font-weight="bold" fill="#fff" stroke="#fff" stroke-width="0.25" letter-spacing="-0.35" filter="url(#pds)">11.7%</text>
<text x="505.80" y="1951.35" text-anchor="middle" font-size="12.2" font-weight="bold" fill="#fff" stroke="#fff" stroke-width="0.25" letter-spacing="-0.35" filter="url(#pds)">4.9%</text>
<text x="523.03" y="1938.06" text-anchor="middle" font-size="12.2" font-weight="bold" fill="#fff" stroke="#fff" stroke-width="0.25" letter-spacing="-0.35" filter="url(#pds)">5.9%</text>
<text x="543.45" y="1931.33" text-anchor="middle" font-size="12.2" font-weight="bold" fill="#fff" stroke="#fff" stroke-width="0.25" letter-spacing="-0.35" filter="url(#pds)">4.8%</text>
<circle cx="500.75" cy="2113.30" r="4" fill="#7239ea"/>
<circle cx="500.75" cy="2136.31" r="4" fill="#17c653"/>
<circle cx="500.75" cy="2159.32" r="4" fill="#1b84ff"/>
<circle cx="500.75" cy="2182.33" r="4" fill="#f8285a"/>
<circle cx="500.75" cy="2205.34" r="4" fill="#7fffd4"/>
<circle cx="500.75" cy="2228.35" r="4" fill="#87cefa"/>
<circle cx="500.75" cy="2251.36" r="4" fill="#4169e1"/>
<circle cx="500.75" cy="2274.37" r="4" fill="#3cb371"/>
<circle cx="500.75" cy="2297.38" r="4" fill="#808000"/>
<circle cx="500.75" cy="2320.39" r="4" fill="#008080"/>
<circle cx="500.75" cy="2343.40" r="4" fill="#fff8dc"/>
<circle cx="500.75" cy="2366.41" r="4" fill="#bc8f8f"/>
<circle cx="500.75" cy="2389.42" r="4" fill="#a0522d"/>
<circle cx="500.75" cy="2412.43" r="4" fill="#cd853f"/>
<circle cx="500.75" cy="2435.44" r="4" fill="#b8860b"/>
<circle cx="500.75" cy="2458.45" r="4" fill="#2f4f4f"/>
<line x1="923.50" y1="2003.75" x2="1858.25" y2="2003.75" stroke="#e4e6ef" stroke-width="1" stroke-dasharray="3.5 4.5"/>
<line x1="923.50" y1="2041.65" x2="1858.25" y2="2041.65" stroke="#e4e6ef" stroke-width="1" stroke-dasharray="3.5 4.5"/>
<line x1="923.50" y1="2079.55" x2="1858.25" y2="2079.55" stroke="#e4e6ef" stroke-width="1" stroke-dasharray="3.5 4.5"/>
<line x1="923.50" y1="2117.45" x2="1858.25" y2="2117.45" stroke="#e4e6ef" stroke-width="1" stroke-dasharray="3.5 4.5"/>
<line x1="923.50" y1="2155.35" x2="1858.25" y2="2155.35" stroke="#e4e6ef" stroke-width="1" stroke-dasharray="3.5 4.5"/>
<line x1="923.50" y1="2193.25" x2="1858.25" y2="2193.25" stroke="#e4e6ef" stroke-width="1" stroke-dasharray="3.5 4.5"/>
<rect x="945.50" y="2175.95" width="14.80" height="17.30" rx="6.5" ry="6.5" fill="#1b84ff" />
<text x="958.40" y="2206.00" text-anchor="end" font-size="12" fill="#99a1b7" textLength="48.71" lengthAdjust="spacingAndGlyphs" transform="rotate(-45 958.40 2206.00)">ADIDAS</text>
<rect x="1003.93" y="2005.03" width="14.80" height="188.22" rx="6.5" ry="6.5" fill="#1b84ff" />
<text x="1016.83" y="2206.00" text-anchor="end" font-size="12" fill="#99a1b7" textLength="42.17" lengthAdjust="spacingAndGlyphs" transform="rotate(-45 1016.83 2206.00)">APPLE</text>
<rect x="1062.36" y="2191.97" width="14.80" height="1.28" rx="0.6422154999999999" ry="0.6422154999999999" fill="#1b84ff" />
<text x="1075.26" y="2206.00" text-anchor="end" font-size="12" fill="#99a1b7" textLength="62.37" lengthAdjust="spacingAndGlyphs" transform="rotate(-45 1075.26 2206.00)">Banpresto</text>
<rect x="1120.79" y="2181.71" width="14.80" height="11.54" rx="5.76938814" ry="5.76938814" fill="#1b84ff" />
<text x="1133.69" y="2206.00" text-anchor="end" font-size="12" fill="#99a1b7" textLength="53.55" lengthAdjust="spacingAndGlyphs" transform="rotate(-45 1133.69 2206.00)">BESATTI</text>
<rect x="1179.22" y="2049.09" width="14.80" height="144.16" rx="6.5" ry="6.5" fill="#1b84ff" />
<text x="1192.12" y="2206.00" text-anchor="end" font-size="12" fill="#99a1b7" textLength="36.34" lengthAdjust="spacingAndGlyphs" transform="rotate(-45 1192.12 2206.00)">CPUS</text>
<path d="M1237.65 2193.6A7.4 1.50 0 0 1 1252.45 2193.6Z" fill="#1b84ff"/>
<text x="1250.55" y="2206.00" text-anchor="end" font-size="12" fill="#99a1b7" textLength="79.09" lengthAdjust="spacingAndGlyphs" transform="rotate(-45 1250.55 2206.00)">Hiwatch Plus</text>
<path d="M1296.08 2193.6A7.4 1.50 0 0 1 1310.88 2193.6Z" fill="#1b84ff"/>
<text x="1308.98" y="2206.00" text-anchor="end" font-size="12" fill="#99a1b7" textLength="67.44" lengthAdjust="spacingAndGlyphs" transform="rotate(-45 1308.98 2206.00)">i9000 TWS</text>
<rect x="1354.51" y="2182.04" width="14.80" height="11.21" rx="5.60357185" ry="5.60357185" fill="#1b84ff" />
<text x="1367.41" y="2206.00" text-anchor="end" font-size="12" fill="#99a1b7" textLength="71.51" lengthAdjust="spacingAndGlyphs" transform="rotate(-45 1367.41 2206.00)">Megahouse</text>
<rect x="1412.94" y="2186.33" width="14.80" height="6.92" rx="3.45801874" ry="3.45801874" fill="#1b84ff" />
<text x="1425.84" y="2206.00" text-anchor="end" font-size="12" fill="#99a1b7" textLength="55.50" lengthAdjust="spacingAndGlyphs" transform="rotate(-45 1425.84 2206.00)">Microsoft</text>
<rect x="1471.37" y="2171.89" width="14.80" height="21.36" rx="6.5" ry="6.5" fill="#1b84ff" />
<text x="1484.27" y="2206.00" text-anchor="end" font-size="12" fill="#99a1b7" textLength="50.97" lengthAdjust="spacingAndGlyphs" transform="rotate(-45 1484.27 2206.00)">Nintento</text>
<rect x="1529.80" y="2176.11" width="14.80" height="17.14" rx="6.5" ry="6.5" fill="#1b84ff" />
<text x="1542.70" y="2206.00" text-anchor="end" font-size="12" fill="#99a1b7" textLength="57.19" lengthAdjust="spacingAndGlyphs" transform="rotate(-45 1542.70 2206.00)">PARAISO</text>
<rect x="1588.23" y="2170.32" width="14.80" height="22.93" rx="6.5" ry="6.5" fill="#1b84ff" />
<text x="1601.13" y="2206.00" text-anchor="end" font-size="12" fill="#99a1b7" textLength="89.18" lengthAdjust="spacingAndGlyphs" transform="rotate(-45 1601.13 2206.00)">RIPLEY HOME</text>
<rect x="1646.66" y="2072.76" width="14.80" height="120.49" rx="6.5" ry="6.5" fill="#1b84ff" />
<text x="1659.56" y="2206.00" text-anchor="end" font-size="12" fill="#99a1b7" textLength="67.59" lengthAdjust="spacingAndGlyphs" transform="rotate(-45 1659.56 2206.00)">SAMSUMG</text>
<rect x="1705.09" y="2137.06" width="14.80" height="56.19" rx="6.5" ry="6.5" fill="#1b84ff" />
<text x="1717.99" y="2206.00" text-anchor="end" font-size="12" fill="#99a1b7" textLength="37.07" lengthAdjust="spacingAndGlyphs" transform="rotate(-45 1717.99 2206.00)">SONY</text>
<rect x="1763.52" y="2175.95" width="14.80" height="17.30" rx="6.5" ry="6.5" fill="#1b84ff" />
<text x="1776.42" y="2206.00" text-anchor="end" font-size="12" fill="#99a1b7" textLength="91.59" lengthAdjust="spacingAndGlyphs" transform="rotate(-45 1776.42 2206.00)">STRAWBERRY</text>
<rect x="1821.95" y="2182.30" width="14.80" height="10.95" rx="5.474133875" ry="5.474133875" fill="#1b84ff" />
<text x="1834.85" y="2206.00" text-anchor="end" font-size="12" fill="#99a1b7" textLength="53.06" lengthAdjust="spacingAndGlyphs" transform="rotate(-45 1834.85 2206.00)">TERREX</text>
</svg>
<span class="t" style="left:59.96px;top:28.55px;font-size:18.60px;color:#ffffff;-webkit-text-stroke:0.69px #ffffff;transform:scaleX(1.1122);transform-origin:0 0;">Metronic</span>
<span class="t" style="left:56.21px;top:106.10px;font-size:14.50px;color:#ffffff;-webkit-text-stroke:0.54px #ffffff;transform:scaleX(1.0786);transform-origin:0 0;">Dashboard</span>
<span class="t" style="left:57.29px;top:148.10px;font-size:14.50px;color:#9a9cae;-webkit-text-stroke:0.54px #9a9cae;transform:scaleX(1.0669);transform-origin:0 0;">Ventas</span>
<span class="t" style="left:56.75px;top:248.10px;font-size:14.50px;color:#9a9cae;-webkit-text-stroke:0.54px #9a9cae;transform:scaleX(1.0786);transform-origin:0 0;">Categorias</span>
<span class="t" style="left:57.30px;top:290.10px;font-size:14.50px;color:#9a9cae;-webkit-text-stroke:0.54px #9a9cae;transform:scaleX(1.1102);transform-origin:0 0;">Atributos</span>
<span class="t" style="left:56.75px;top:332.10px;font-size:14.50px;color:#9a9cae;-webkit-text-stroke:0.54px #9a9cae;transform:scaleX(1.0734);transform-origin:0 0;">Sliders</span>
<span class="t" style="left:56.21px;top:374.10px;font-size:14.50px;color:#9a9cae;-webkit-text-stroke:0.54px #9a9cae;transform:scaleX(1.0809);transform-origin:0 0;">Marcas</span>
<span class="t" style="left:56.20px;top:416.10px;font-size:14.50px;color:#9a9cae;-webkit-text-stroke:0.54px #9a9cae;transform:scaleX(1.0935);transform-origin:0 0;">Productos</span>
<span class="t" style="left:56.75px;top:458.10px;font-size:14.50px;color:#9a9cae;-webkit-text-stroke:0.54px #9a9cae;transform:scaleX(1.0602);transform-origin:0 0;">Cupones</span>
<span class="t" style="left:56.20px;top:500.10px;font-size:14.50px;color:#9a9cae;-webkit-text-stroke:0.54px #9a9cae;transform:scaleX(1.0886);transform-origin:0 0;">Discount</span>
<span class="t" style="left:23.96px;top:209.60px;font-size:11.50px;color:#666a7a;-webkit-text-stroke:0.43px #666a7a;letter-spacing:0.898px;">CONFIGURACIONES</span>
<span class="t" style="left:52.68px;top:2537.20px;font-size:14.30px;color:#b5b7c8;-webkit-text-stroke:0.28px #b5b7c8;transform:scaleX(1.0663);transform-origin:0 0;">Docs &amp; Components</span>
<svg style="left:250px;top:22.5px;z-index:4" width="29" height="29"><path d="M13.6 9.6L9.2 14.5L13.6 19.4M18.4 9.6L14 14.5L18.4 19.4" fill="none" stroke="#b5b8c5" stroke-width="1.25" stroke-linecap="round" stroke-linejoin="round"/></svg>
<span class="t" style="left:307.29px;top:30.35px;font-size:14.00px;color:#1b84ff;-webkit-text-stroke:0.28px #1b84ff;transform:scaleX(1.1114);transform-origin:0 0;">Dashboard</span>
<span class="t" style="left:412.04px;top:30.35px;font-size:14.00px;color:#4b5675;-webkit-text-stroke:0.28px #4b5675;transform:scaleX(1.1183);transform-origin:0 0;">Layout Builder</span>
<span class="t" style="left:540.58px;top:30.35px;font-size:14.00px;color:#4b5675;-webkit-text-stroke:0.28px #4b5675;transform:scaleX(1.1548);transform-origin:0 0;">Crafted</span>
<span class="t" style="left:623.56px;top:30.35px;font-size:14.00px;color:#4b5675;-webkit-text-stroke:0.28px #4b5675;transform:scaleX(1.1202);transform-origin:0 0;">Apps</span>
<span class="t" style="left:687.04px;top:30.35px;font-size:14.00px;color:#4b5675;-webkit-text-stroke:0.28px #4b5675;transform:scaleX(1.1168);transform-origin:0 0;">Mega menu</span>
<span class="t" style="left:294.66px;top:102.60px;font-size:17.50px;color:#071437;-webkit-text-stroke:0.50px #071437;transform:scaleX(1.0869);transform-origin:0 0;">Dashboard</span>
<span class="t" style="left:1766.88px;top:105.17px;font-size:12.35px;color:#252f4a;-webkit-text-stroke:0.46px #252f4a;transform:scaleX(1.1144);transform-origin:0 0;">Filter</span>
<span class="t" style="left:1835.70px;top:105.17px;font-size:12.35px;color:#ffffff;-webkit-text-stroke:0.46px #ffffff;transform:scaleX(1.0952);transform-origin:0 0;">Create</span>
<svg style="left:0;top:0;z-index:6" width="1920" height="600"><text x="1898.2" y="319.62" font-size="13" fill="#4b5675" text-anchor="middle" letter-spacing="0.831" transform="rotate(90 1898.2 319.62)">Demos</text></svg>
<svg style="left:0;top:0;z-index:6" width="1920" height="600"><text x="1898.2" y="394.00" font-size="13" fill="#4b5675" text-anchor="middle" letter-spacing="0.922" transform="rotate(90 1898.2 394.00)">Help</text></svg>
<svg style="left:0;top:0;z-index:6" width="1920" height="600"><text x="1898.2" y="479.00" font-size="13" fill="#4b5675" text-anchor="middle" letter-spacing="1.038" transform="rotate(90 1898.2 479.00)">Buy Now</text></svg>
<span class="t" style="left:295.29px;top:2546.35px;font-size:13.00px;color:#99a1b7;-webkit-text-stroke:0.28px #99a1b7;transform:scaleX(1.1311);transform-origin:0 0;">2024©</span>
<span class="t" style="left:342.09px;top:2546.35px;font-size:13.00px;color:#4b5675;-webkit-text-stroke:0.28px #4b5675;transform:scaleX(1.0579);transform-origin:0 0;">Keenthemes</span>
<span class="t" style="left:1712.65px;top:2546.35px;font-size:13.00px;color:#78829d;-webkit-text-stroke:0.28px #78829d;transform:scaleX(1.0648);transform-origin:0 0;">About</span>
<span class="t" style="left:1762.36px;top:2546.35px;font-size:13.00px;color:#78829d;-webkit-text-stroke:0.28px #78829d;transform:scaleX(1.0817);transform-origin:0 0;">Support</span>
<span class="t" style="left:1824.83px;top:2546.35px;font-size:13.00px;color:#78829d;-webkit-text-stroke:0.28px #78829d;transform:scaleX(1.0692);transform-origin:0 0;">Purchase</span>
<span class="t" style="left:324.96px;top:172.85px;font-size:23.00px;color:#071437;-webkit-text-stroke:0.85px #071437;transform:scaleX(0.9711);transform-origin:0 0;">17372414.65 PEN</span>
<span class="t" style="left:530.77px;top:178.35px;font-size:12.00px;color:#f8285a;-webkit-text-stroke:0.20px #f8285a;transform:scaleX(1.1895);transform-origin:0 0;">-3.53%</span>
<span class="t" style="left:326.40px;top:206.35px;font-size:13.00px;color:#99a1b7;-webkit-text-stroke:0.28px #99a1b7;transform:scaleX(1.1045);transform-origin:0 0;">Ventas X Pais</span>
<span class="t" style="left:458.86px;top:298.35px;font-size:14.00px;color:#ffffff;font-weight:700;-webkit-text-stroke:0.70px #ffffff;transform:scaleX(1.1121);transform-origin:0 0;">260732.6</span>
<span class="t" style="left:350.48px;top:296.20px;font-size:14.30px;color:#252f4a;-webkit-text-stroke:0.53px #252f4a;transform:scaleX(1.0472);transform-origin:0 0;">Uruguay</span>
<span class="t" style="left:463.86px;top:344.35px;font-size:14.00px;color:#ffffff;font-weight:700;-webkit-text-stroke:0.70px #ffffff;transform:scaleX(1.1287);transform-origin:0 0;">203603.68</span>
<span class="t" style="left:350.50px;top:342.20px;font-size:14.30px;color:#252f4a;-webkit-text-stroke:0.53px #252f4a;transform:scaleX(1.0133);transform-origin:0 0;">El Salvador</span>
<span class="t" style="left:455.84px;top:391.35px;font-size:14.00px;color:#ffffff;font-weight:700;-webkit-text-stroke:0.70px #ffffff;transform:scaleX(1.0138);transform-origin:0 0;">194177.8</span>
<span class="t" style="left:350.46px;top:389.20px;font-size:14.30px;color:#252f4a;-webkit-text-stroke:0.53px #252f4a;transform:scaleX(1.0684);transform-origin:0 0;">Brasil</span>
<span class="t" style="left:460.81px;top:437.35px;font-size:14.00px;color:#ffffff;font-weight:700;-webkit-text-stroke:0.70px #ffffff;transform:scaleX(1.0993);transform-origin:0 0;">185492.79</span>
<span class="t" style="left:351.01px;top:435.20px;font-size:14.30px;color:#252f4a;-webkit-text-stroke:0.53px #252f4a;transform:scaleX(1.0175);transform-origin:0 0;">Cuba</span>
<span class="t" style="left:459.59px;top:484.35px;font-size:14.00px;color:#ffffff;font-weight:700;-webkit-text-stroke:0.70px #ffffff;transform:scaleX(1.0235);transform-origin:0 0;">161377.88</span>
<span class="t" style="left:351.00px;top:482.20px;font-size:14.30px;color:#252f4a;-webkit-text-stroke:0.53px #252f4a;transform:scaleX(1.0345);transform-origin:0 0;">Chile</span>
<span class="t" style="left:457.57px;top:530.35px;font-size:14.00px;color:#ffffff;font-weight:700;-webkit-text-stroke:0.70px #ffffff;transform:scaleX(1.0828);transform-origin:0 0;">159826.8</span>
<span class="t" style="left:351.52px;top:528.20px;font-size:14.30px;color:#252f4a;-webkit-text-stroke:0.53px #252f4a;transform:scaleX(1.0368);transform-origin:0 0;">Venezuela</span>
<span class="t" style="left:422.62px;top:567.35px;font-size:13.00px;color:#252f4a;-webkit-text-stroke:0.28px #252f4a;">0</span>
<span class="t" style="left:485.33px;top:567.35px;font-size:13.00px;color:#252f4a;-webkit-text-stroke:0.28px #252f4a;transform:scaleX(1.2454);transform-origin:0 0;">70000</span>
<span class="t" style="left:563.00px;top:567.35px;font-size:13.00px;color:#252f4a;-webkit-text-stroke:0.28px #252f4a;transform:scaleX(1.2344);transform-origin:0 0;">140000</span>
<span class="t" style="left:645.31px;top:567.35px;font-size:13.00px;color:#252f4a;-webkit-text-stroke:0.28px #252f4a;transform:scaleX(1.2225);transform-origin:0 0;">210000</span>
<span class="t" style="left:726.52px;top:567.35px;font-size:13.00px;color:#252f4a;-webkit-text-stroke:0.28px #252f4a;transform:scaleX(1.2681);transform-origin:0 0;">280000</span>
<span class="t" style="left:870.84px;top:176.10px;font-size:15.50px;color:#99a1b7;-webkit-text-stroke:0.28px #99a1b7;transform:scaleX(1.0494);transform-origin:0 0;">PEN</span>
<span class="t" style="left:907.92px;top:172.85px;font-size:23.00px;color:#071437;-webkit-text-stroke:0.85px #071437;transform:scaleX(1.0132);transform-origin:0 0;">391148.92</span>
<span class="t" style="left:1041.55px;top:178.35px;font-size:12.00px;color:#f8285a;-webkit-text-stroke:0.20px #f8285a;transform:scaleX(1.1290);transform-origin:0 0;">-22.6%</span>
<span class="t" style="left:872.16px;top:203.35px;font-size:13.00px;color:#99a1b7;-webkit-text-stroke:0.28px #99a1b7;transform:scaleX(1.1100);transform-origin:0 0;">Ventas X Semana</span>
<span class="t" style="left:975.36px;top:238.35px;font-size:13.00px;color:#99a1b7;-webkit-text-stroke:0.28px #99a1b7;transform:scaleX(1.0810);transform-origin:0 0;">Smartphones</span>
<span class="t" style="left:975.63px;top:258.35px;font-size:13.00px;color:#99a1b7;-webkit-text-stroke:0.28px #99a1b7;transform:scaleX(1.0701);transform-origin:0 0;">&amp; Tablets</span>
<span class="t" style="left:974.81px;top:277.35px;font-size:13.00px;color:#99a1b7;-webkit-text-stroke:0.28px #99a1b7;transform:scaleX(1.0915);transform-origin:0 0;">Electronics</span>
<span class="t" style="left:975.36px;top:297.35px;font-size:13.00px;color:#99a1b7;-webkit-text-stroke:0.28px #99a1b7;transform:scaleX(1.0828);transform-origin:0 0;">Computers</span>
<span class="t" style="left:1083.72px;top:248.35px;font-size:13.00px;color:#4b5675;-webkit-text-stroke:0.48px #4b5675;transform:scaleX(1.0689);transform-origin:0 0;">208199.25 PEN</span>
<span class="t" style="left:1112.48px;top:277.35px;font-size:13.00px;color:#4b5675;-webkit-text-stroke:0.48px #4b5675;transform:scaleX(1.0461);transform-origin:0 0;">70601 PEN</span>
<span class="t" style="left:1097.49px;top:297.35px;font-size:13.00px;color:#4b5675;-webkit-text-stroke:0.48px #4b5675;transform:scaleX(1.0915);transform-origin:0 0;">40852.4 PEN</span>
<span class="t" style="left:870.84px;top:374.10px;font-size:15.50px;color:#99a1b7;-webkit-text-stroke:0.28px #99a1b7;transform:scaleX(1.0494);transform-origin:0 0;">PEN</span>
<span class="t" style="left:908.23px;top:368.10px;font-size:32.50px;color:#071437;-webkit-text-stroke:0.97px #071437;transform:scaleX(1.0109);transform-origin:0 0;">3010</span>
<span class="t" style="left:1006.33px;top:380.35px;font-size:12.00px;color:#17c653;-webkit-text-stroke:0.20px #17c653;transform:scaleX(1.1629);transform-origin:0 0;">35.59%</span>
<span class="t" style="left:871.03px;top:408.35px;font-size:13.00px;color:#99a1b7;-webkit-text-stroke:0.28px #99a1b7;transform:scaleX(1.1230);transform-origin:0 0;">Descuento X Semana</span>
<span class="t" style="left:1276.07px;top:173.85px;font-size:16.00px;color:#071437;-webkit-text-stroke:0.59px #071437;transform:scaleX(1.0898);transform-origin:0 0;">Venta X Mes</span>
<span class="t" style="left:1274.76px;top:198.35px;font-size:13.00px;color:#99a1b7;-webkit-text-stroke:0.28px #99a1b7;transform:scaleX(1.1463);transform-origin:0 0;">Users from all channels</span>
<span class="t" style="left:1274.62px;top:269.10px;font-size:15.50px;color:#99a1b7;-webkit-text-stroke:0.28px #99a1b7;transform:scaleX(1.0158);transform-origin:0 0;">PEN</span>
<span class="t" style="left:1309.79px;top:263.10px;font-size:32.50px;color:#1e2a4a;-webkit-text-stroke:0.97px #1e2a4a;transform:scaleX(0.9691);transform-origin:0 0;">1710480.61</span>
<span class="t" style="left:1501.33px;top:275.35px;font-size:12.00px;color:#17c653;-webkit-text-stroke:0.20px #17c653;transform:scaleX(1.1629);transform-origin:0 0;">34.36%</span>
<span class="t" style="left:1275.91px;top:306.35px;font-size:13.00px;color:#99a1b7;-webkit-text-stroke:0.28px #99a1b7;transform:scaleX(1.1644);transform-origin:0 0;">Another $48,346 to Goal</span>
<span class="t" style="left:1275.71px;top:361.35px;font-size:12.00px;color:#99a1b7;transform:scaleX(1.0482);transform-origin:0 0;">147889.94 PEN</span>
<span class="t" style="left:1274.25px;top:417.35px;font-size:12.00px;color:#99a1b7;transform:scaleX(1.0057);transform-origin:0 0;">111087.705 PEN</span>
<span class="t" style="left:1282.98px;top:472.35px;font-size:12.00px;color:#99a1b7;transform:scaleX(1.0423);transform-origin:0 0;">74285.47 PEN</span>
<span class="t" style="left:1275.24px;top:528.35px;font-size:12.00px;color:#99a1b7;transform:scaleX(1.0539);transform-origin:0 0;">37483.235 PEN</span>
<span class="t" style="left:1315.99px;top:583.35px;font-size:12.00px;color:#99a1b7;transform:scaleX(1.0108);transform-origin:0 0;">681 PEN</span>
<span class="t" style="left:1340.42px;top:595.35px;font-size:12.00px;color:#99a1b7;transform:scaleX(1.1000);transform-origin:0 0;">03-01</span>
<span class="t" style="left:1405.14px;top:595.35px;font-size:12.00px;color:#99a1b7;transform:scaleX(1.1000);transform-origin:0 0;">03-05</span>
<span class="t" style="left:1469.87px;top:595.35px;font-size:12.00px;color:#99a1b7;transform:scaleX(1.1000);transform-origin:0 0;">03-09</span>
<span class="t" style="left:1534.59px;top:595.35px;font-size:12.00px;color:#99a1b7;transform:scaleX(1.1000);transform-origin:0 0;">03-13</span>
<span class="t" style="left:1599.31px;top:595.35px;font-size:12.00px;color:#99a1b7;transform:scaleX(1.1000);transform-origin:0 0;">03-17</span>
<span class="t" style="left:1664.02px;top:595.35px;font-size:12.00px;color:#99a1b7;transform:scaleX(1.1000);transform-origin:0 0;">03-21</span>
<span class="t" style="left:1728.74px;top:595.35px;font-size:12.00px;color:#99a1b7;transform:scaleX(1.1000);transform-origin:0 0;">03-25</span>
<span class="t" style="left:1793.46px;top:595.35px;font-size:12.00px;color:#99a1b7;transform:scaleX(1.1000);transform-origin:0 0;">03-29</span>
<span class="t" style="left:326.25px;top:705.50px;font-size:16.70px;color:#1e2a4a;font-weight:700;transform:scaleX(1.0861);transform-origin:0 0;">Venta X Año</span>
<span class="t" style="left:340.11px;top:742.35px;font-size:14.00px;color:#4b5675;font-weight:700;-webkit-text-stroke:0.70px #4b5675;transform:scaleX(1.1367);transform-origin:0 0;">2024</span>
<span class="t" style="left:1036.39px;top:727.50px;font-size:16.70px;color:#f8285a;font-weight:700;transform:scaleX(1.1109);transform-origin:0 0;">17372414.66 PEN</span>
<span class="t" style="left:313.70px;top:801.35px;font-size:12.00px;color:#99a1b7;transform:scaleX(1.1000);transform-origin:0 0;">2000000.00</span>
<span class="t" style="left:315.19px;top:834.35px;font-size:12.00px;color:#99a1b7;transform:scaleX(1.0763);transform-origin:0 0;">1500000.00</span>
<span class="t" style="left:315.19px;top:867.35px;font-size:12.00px;color:#99a1b7;transform:scaleX(1.0763);transform-origin:0 0;">1000000.00</span>
<span class="t" style="left:321.23px;top:899.35px;font-size:12.00px;color:#99a1b7;transform:scaleX(1.0982);transform-origin:0 0;">500000.00</span>
<span class="t" style="left:358.23px;top:932.35px;font-size:12.00px;color:#99a1b7;transform:scaleX(1.0769);transform-origin:0 0;">0.00</span>
<span class="t" style="left:408.99px;top:955.35px;font-size:12.00px;color:#99a1b7;transform:scaleX(1.0488);transform-origin:0 0;">Enero</span>
<span class="t" style="left:470.87px;top:955.35px;font-size:12.00px;color:#99a1b7;transform:scaleX(1.0429);transform-origin:0 0;">Febrero</span>
<span class="t" style="left:541.59px;top:955.35px;font-size:12.00px;color:#99a1b7;transform:scaleX(1.0853);transform-origin:0 0;">Marzo</span>
<span class="t" style="left:614.52px;top:955.35px;font-size:12.00px;color:#99a1b7;transform:scaleX(1.0645);transform-origin:0 0;">Abril</span>
<span class="t" style="left:678.37px;top:955.35px;font-size:12.00px;color:#99a1b7;transform:scaleX(1.0442);transform-origin:0 0;">Mayo</span>
<span class="t" style="left:746.02px;top:955.35px;font-size:12.00px;color:#99a1b7;transform:scaleX(1.0531);transform-origin:0 0;">Junio</span>
<span class="t" style="left:815.15px;top:955.35px;font-size:12.00px;color:#99a1b7;transform:scaleX(1.0515);transform-origin:0 0;">Julio</span>
<span class="t" style="left:875.15px;top:955.35px;font-size:12.00px;color:#99a1b7;transform:scaleX(1.0676);transform-origin:0 0;">Agosto</span>
<span class="t" style="left:929.37px;top:955.35px;font-size:12.00px;color:#99a1b7;transform:scaleX(1.0579);transform-origin:0 0;">Septiembre</span>
<span class="t" style="left:1005.61px;top:955.35px;font-size:12.00px;color:#99a1b7;transform:scaleX(1.0898);transform-origin:0 0;">Octubre</span>
<span class="t" style="left:1064.98px;top:955.35px;font-size:12.00px;color:#99a1b7;transform:scaleX(1.0617);transform-origin:0 0;">Noviembre</span>
<span class="t" style="left:1133.59px;top:955.35px;font-size:12.00px;color:#99a1b7;transform:scaleX(1.0806);transform-origin:0 0;">Diciembre</span>
<span class="t" style="left:481.93px;top:1033.20px;font-size:16.30px;color:#1e2a4a;-webkit-text-stroke:0.60px #1e2a4a;transform:scaleX(1.1198);transform-origin:0 0;">Descuentos totales</span>
<span class="t" style="left:534.90px;top:1084.05px;font-size:13.60px;color:#252f4a;-webkit-text-stroke:0.50px #252f4a;transform:scaleX(1.1294);transform-origin:0 0;">Descuento</span>
<span class="t" style="left:535.08px;top:1104.55px;font-size:11.60px;color:#99a1b7;-webkit-text-stroke:0.28px #99a1b7;transform:scaleX(1.0884);transform-origin:0 0;">1001 Uso</span>
<span class="t" style="left:933.47px;top:1084.05px;font-size:13.60px;color:#252f4a;-webkit-text-stroke:0.50px #252f4a;transform:scaleX(1.0985);transform-origin:0 0;">95365.75 PEN</span>
<span class="t" style="left:1001.71px;top:1104.55px;font-size:11.60px;color:#99a1b7;-webkit-text-stroke:0.43px #99a1b7;transform:scaleX(1.1482);transform-origin:0 0;">Tons</span>
<span class="t" style="left:535.47px;top:1157.05px;font-size:13.60px;color:#252f4a;-webkit-text-stroke:0.50px #252f4a;transform:scaleX(1.1035);transform-origin:0 0;">Cupones</span>
<span class="t" style="left:535.34px;top:1177.55px;font-size:11.60px;color:#99a1b7;-webkit-text-stroke:0.28px #99a1b7;transform:scaleX(1.1249);transform-origin:0 0;">997 Canje</span>
<span class="t" style="left:974.72px;top:1157.05px;font-size:13.60px;color:#252f4a;-webkit-text-stroke:0.50px #252f4a;transform:scaleX(1.1264);transform-origin:0 0;">93461.5</span>
<span class="t" style="left:1001.71px;top:1177.55px;font-size:11.60px;color:#99a1b7;-webkit-text-stroke:0.43px #99a1b7;transform:scaleX(1.1482);transform-origin:0 0;">Tons</span>
<span class="t" style="left:1266.99px;top:710.85px;font-size:16.00px;color:#1e2a4a;-webkit-text-stroke:0.59px #1e2a4a;transform:scaleX(1.1159);transform-origin:0 0;">Campaña de descuento vs Cupones</span>
<span class="t" style="left:1267.08px;top:734.35px;font-size:13.00px;color:#99a1b7;-webkit-text-stroke:0.28px #99a1b7;transform:scaleX(1.1609);transform-origin:0 0;">997 tons</span>
<span class="t" style="left:1277.24px;top:836.35px;font-size:14.00px;color:#252f4a;-webkit-text-stroke:0.52px #252f4a;transform:scaleX(1.0717);transform-origin:0 0;">Cupones</span>
<span class="t" style="left:1369.69px;top:836.35px;font-size:14.00px;color:#252f4a;-webkit-text-stroke:0.52px #252f4a;transform:scaleX(1.0906);transform-origin:0 0;">Descuento</span>
<span class="t" style="left:1480.62px;top:797.35px;font-size:14.00px;color:#4b5675;font-weight:700;-webkit-text-stroke:0.70px #4b5675;transform:scaleX(1.1526);transform-origin:0 0;">2024</span>
<span class="t" style="left:1268.15px;top:909.35px;font-size:12.00px;color:#99a1b7;transform:scaleX(1.1974);transform-origin:0 0;">200</span>
<span class="t" style="left:1269.14px;top:932.35px;font-size:12.00px;color:#99a1b7;transform:scaleX(1.1467);transform-origin:0 0;">160</span>
<span class="t" style="left:1269.14px;top:956.35px;font-size:12.00px;color:#99a1b7;transform:scaleX(1.1467);transform-origin:0 0;">120</span>
<span class="t" style="left:1275.64px;top:980.35px;font-size:12.00px;color:#99a1b7;transform:scaleX(1.2200);transform-origin:0 0;">80</span>
<span class="t" style="left:1275.95px;top:1004.35px;font-size:12.00px;color:#99a1b7;transform:scaleX(1.1961);transform-origin:0 0;">40</span>
<span class="t" style="left:1283.75px;top:1027.35px;font-size:12.00px;color:#99a1b7;">0</span>
<span class="t" style="left:1336.89px;top:908.35px;font-size:12.00px;color:#252f4a;-webkit-text-stroke:0.44px #252f4a;transform:scaleX(1.0680);transform-origin:0 0;">177</span>
<span class="t" style="left:1429.89px;top:913.35px;font-size:12.00px;color:#252f4a;-webkit-text-stroke:0.44px #252f4a;transform:scaleX(1.0680);transform-origin:0 0;">169</span>
<span class="t" style="left:1522.89px;top:914.35px;font-size:12.00px;color:#252f4a;-webkit-text-stroke:0.44px #252f4a;transform:scaleX(1.0680);transform-origin:0 0;">168</span>
<span class="t" style="left:1615.89px;top:923.35px;font-size:12.00px;color:#252f4a;-webkit-text-stroke:0.44px #252f4a;transform:scaleX(1.0680);transform-origin:0 0;">153</span>
<span class="t" style="left:1708.89px;top:920.35px;font-size:12.00px;color:#252f4a;-webkit-text-stroke:0.44px #252f4a;transform:scaleX(1.0680);transform-origin:0 0;">158</span>
<span class="t" style="left:1801.89px;top:911.35px;font-size:12.00px;color:#252f4a;-webkit-text-stroke:0.44px #252f4a;transform:scaleX(1.0680);transform-origin:0 0;">172</span>
<span class="t" style="left:326.58px;top:1290.85px;font-size:16.00px;color:#071437;-webkit-text-stroke:0.59px #071437;transform:scaleX(1.1108);transform-origin:0 0;">Ventas X Categorias</span>
<span class="t" style="left:325.26px;top:1315.35px;font-size:13.00px;color:#99a1b7;-webkit-text-stroke:0.28px #99a1b7;transform:scaleX(1.1500);transform-origin:0 0;">Users from all channels</span>
<span class="t" style="left:884.62px;top:1303.35px;font-size:14.00px;color:#4b5675;font-weight:700;-webkit-text-stroke:0.70px #4b5675;transform:scaleX(1.1526);transform-origin:0 0;">2024</span>
<span class="t" style="left:950.07px;top:1303.35px;font-size:14.00px;color:#4b5675;font-weight:700;-webkit-text-stroke:0.70px #4b5675;transform:scaleX(1.0826);transform-origin:0 0;">Marzo</span>
<span class="t" style="left:324.63px;top:1363.55px;font-size:22.60px;color:#99a1b7;-webkit-text-stroke:0.28px #99a1b7;">PEN</span>
<span class="t" style="left:372.79px;top:1358.35px;font-size:39.00px;color:#1e2a4a;-webkit-text-stroke:1.17px #1e2a4a;transform:scaleX(1.0214);transform-origin:0 0;">1710480.59</span>
<span class="t" style="left:608.08px;top:1371.35px;font-size:12.00px;color:#17c653;-webkit-text-stroke:0.20px #17c653;transform:scaleX(1.1505);transform-origin:0 0;">34.36%</span>
<span class="t" style="left:326.41px;top:1406.35px;font-size:13.00px;color:#99a1b7;-webkit-text-stroke:0.28px #99a1b7;transform:scaleX(1.1595);transform-origin:0 0;">Avarage cost per interaction</span>
<span class="t" style="left:325.70px;top:1461.35px;font-size:13.00px;color:#99a1b7;transform:scaleX(1.0950);transform-origin:0 0;">696595.65</span>
<span class="t" style="left:328.48px;top:1491.35px;font-size:13.00px;color:#99a1b7;transform:scaleX(1.0496);transform-origin:0 0;">597081.99</span>
<span class="t" style="left:326.73px;top:1521.35px;font-size:13.00px;color:#99a1b7;transform:scaleX(1.0782);transform-origin:0 0;">497568.32</span>
<span class="t" style="left:325.70px;top:1551.35px;font-size:13.00px;color:#99a1b7;transform:scaleX(1.0950);transform-origin:0 0;">398054.66</span>
<span class="t" style="left:325.45px;top:1581.35px;font-size:13.00px;color:#99a1b7;transform:scaleX(1.0992);transform-origin:0 0;">298540.99</span>
<span class="t" style="left:328.72px;top:1611.35px;font-size:13.00px;color:#99a1b7;transform:scaleX(1.0456);transform-origin:0 0;">199027.33</span>
<span class="t" style="left:335.47px;top:1641.35px;font-size:13.00px;color:#99a1b7;transform:scaleX(1.0610);transform-origin:0 0;">99513.66</span>
<span class="t" style="left:365.45px;top:1671.35px;font-size:13.00px;color:#99a1b7;transform:scaleX(1.0928);transform-origin:0 0;">0.00</span>
<span class="t" style="left:399.25px;top:1696.10px;font-size:12.50px;color:#99a1b7;">0</span>
<span class="t" style="left:477.68px;top:1696.10px;font-size:12.50px;color:#99a1b7;transform:scaleX(1.0741);transform-origin:0 0;">3317</span>
<span class="t" style="left:566.61px;top:1696.10px;font-size:12.50px;color:#99a1b7;transform:scaleX(1.0741);transform-origin:0 0;">6634</span>
<span class="t" style="left:655.81px;top:1696.10px;font-size:12.50px;color:#99a1b7;transform:scaleX(1.0841);transform-origin:0 0;">9951</span>
<span class="t" style="left:740.72px;top:1696.10px;font-size:12.50px;color:#99a1b7;transform:scaleX(1.1045);transform-origin:0 0;">13268</span>
<span class="t" style="left:829.92px;top:1696.10px;font-size:12.50px;color:#99a1b7;transform:scaleX(1.1045);transform-origin:0 0;">16586</span>
<span class="t" style="left:919.12px;top:1696.10px;font-size:12.50px;color:#99a1b7;transform:scaleX(1.1045);transform-origin:0 0;">19903</span>
<div class="abs" style="left:1000px;top:1690px;width:38px;height:24px;overflow:hidden;z-index:2"><div style="position:absolute;left:-1000px;top:-1690px;width:1920px;height:2586px"><span class="t" style="left:1008.20px;top:1696.10px;font-size:12.50px;color:#99a1b7;transform:scaleX(1.0963);transform-origin:0 0;">23220</span></div></div>
<span class="t" style="left:351.73px;top:1743.95px;font-size:13.80px;color:#78829d;-webkit-text-stroke:0.51px #78829d;transform:scaleX(1.1040);transform-origin:0 0;">Computers</span>
<span class="t" style="left:463.48px;top:1743.95px;font-size:13.80px;color:#78829d;-webkit-text-stroke:0.51px #78829d;transform:scaleX(1.0967);transform-origin:0 0;">Smartphones &amp; Tablets</span>
<span class="t" style="left:655.91px;top:1743.95px;font-size:13.80px;color:#78829d;-webkit-text-stroke:0.51px #78829d;transform:scaleX(1.1161);transform-origin:0 0;">Electronics</span>
<span class="t" style="left:768.28px;top:1743.95px;font-size:13.80px;color:#78829d;-webkit-text-stroke:0.51px #78829d;transform:scaleX(1.1030);transform-origin:0 0;">Juguetes</span>
<span class="t" style="left:866.15px;top:1743.95px;font-size:13.80px;color:#78829d;-webkit-text-stroke:0.51px #78829d;transform:scaleX(1.1317);transform-origin:0 0;">Dormitorio</span>
<span class="t" style="left:1138.49px;top:1290.60px;font-size:17.50px;color:#071437;-webkit-text-stroke:0.65px #071437;transform:scaleX(1.0855);transform-origin:0 0;">Productos mas vendidos X Categorias</span>
<span class="t" style="left:1141.49px;top:1399.35px;font-size:14.00px;color:#252f4a;-webkit-text-stroke:0.52px #252f4a;transform:scaleX(1.0953);transform-origin:0 0;">Computers</span>
<div class="abs" style="left:1240.25px;top:1380px;width:77.5px;height:40px;overflow:hidden;z-index:2"><div style="position:absolute;left:-1240.25px;top:-1380px;width:1920px;height:2586px"><span class="t" style="left:1234.94px;top:1385.35px;font-size:14.00px;color:#4b5675;-webkit-text-stroke:0.52px #4b5675;transform:scaleX(1.0693);transform-origin:0 0;">Smartphones</span><span class="t" style="left:1233.61px;top:1399.35px;font-size:14.00px;color:#4b5675;-webkit-text-stroke:0.52px #4b5675;transform:scaleX(1.0769);transform-origin:0 0;">&amp; Tablets</span></div></div>
<span class="t" style="left:1339.68px;top:1399.35px;font-size:14.00px;color:#4b5675;-webkit-text-stroke:0.52px #4b5675;transform:scaleX(1.1108);transform-origin:0 0;">Electronics</span>
<span class="t" style="left:1446.53px;top:1399.35px;font-size:14.00px;color:#4b5675;-webkit-text-stroke:0.52px #4b5675;transform:scaleX(1.0922);transform-origin:0 0;">Juguetes</span>
<span class="t" style="left:1541.18px;top:1399.35px;font-size:14.00px;color:#4b5675;-webkit-text-stroke:0.52px #4b5675;transform:scaleX(1.1099);transform-origin:0 0;">Dormitorio</span>
<span class="t" style="left:1138.68px;top:1462.35px;font-size:12.00px;color:#99a1b7;-webkit-text-stroke:0.44px #99a1b7;transform:scaleX(1.0476);transform-origin:0 0;">ITEM</span>
<span class="t" style="left:1612.47px;top:1462.35px;font-size:12.00px;color:#99a1b7;-webkit-text-stroke:0.44px #99a1b7;transform:scaleX(1.0227);transform-origin:0 0;">QTY</span>
<span class="t" style="left:1711.97px;top:1462.35px;font-size:12.00px;color:#99a1b7;-webkit-text-stroke:0.44px #99a1b7;transform:scaleX(0.9946);transform-origin:0 0;">PRICE</span>
<span class="t" style="left:1781.47px;top:1462.35px;font-size:12.00px;color:#99a1b7;-webkit-text-stroke:0.44px #99a1b7;transform:scaleX(1.0137);transform-origin:0 0;">TOTAL PRICE</span>
<span class="t" style="left:1196.01px;top:1508.35px;font-size:14.00px;color:#252f4a;-webkit-text-stroke:0.52px #252f4a;transform:scaleX(0.9930);transform-origin:0 0;">APPLE AIRPODS MAX</span>
<span class="t" style="left:1194.79px;top:1529.35px;font-size:12.00px;color:#99a1b7;-webkit-text-stroke:0.28px #99a1b7;transform:scaleX(1.1148);transform-origin:0 0;">Item: #MAXZ895</span>
<span class="t" style="left:1614.03px;top:1517.35px;font-size:14.00px;color:#252f4a;-webkit-text-stroke:0.52px #252f4a;transform:scaleX(1.0658);transform-origin:0 0;">x59</span>
<span class="t" style="left:1681.24px;top:1517.35px;font-size:14.00px;color:#252f4a;-webkit-text-stroke:0.52px #252f4a;transform:scaleX(1.0634);transform-origin:0 0;">2449 PEN</span>
<span class="t" style="left:1784.73px;top:1507.35px;font-size:14.00px;color:#252f4a;-webkit-text-stroke:0.52px #252f4a;transform:scaleX(1.1328);transform-origin:0 0;">245036.85</span>
<span class="t" style="left:1831.77px;top:1527.35px;font-size:14.00px;color:#252f4a;-webkit-text-stroke:0.52px #252f4a;transform:scaleX(0.9902);transform-origin:0 0;">PEN</span>
<span class="t" style="left:1195.49px;top:1575.35px;font-size:14.00px;color:#252f4a;-webkit-text-stroke:0.52px #252f4a;transform:scaleX(1.0599);transform-origin:0 0;">Cpu Amd Ryzen 7 5700g, Ssd 1tb M.2, Ram 32gb</span>
<span class="t" style="left:1194.97px;top:1596.35px;font-size:14.00px;color:#252f4a;-webkit-text-stroke:0.52px #252f4a;transform:scaleX(1.0522);transform-origin:0 0;">Radeon Vega 8</span>
<span class="t" style="left:1194.79px;top:1617.35px;font-size:12.00px;color:#99a1b7;-webkit-text-stroke:0.28px #99a1b7;transform:scaleX(1.1169);transform-origin:0 0;">Item: #Radeon-Vega-8</span>
<span class="t" style="left:1616.00px;top:1595.35px;font-size:14.00px;color:#252f4a;-webkit-text-stroke:0.52px #252f4a;transform:scaleX(0.9770);transform-origin:0 0;">x61</span>
<span class="t" style="left:1681.75px;top:1595.35px;font-size:14.00px;color:#252f4a;-webkit-text-stroke:0.52px #252f4a;transform:scaleX(1.0555);transform-origin:0 0;">2998 PEN</span>
<span class="t" style="left:1762.24px;top:1595.35px;font-size:14.00px;color:#252f4a;-webkit-text-stroke:0.52px #252f4a;transform:scaleX(1.0776);transform-origin:0 0;">205945.3 PEN</span>
<span class="t" style="left:1195.50px;top:1663.35px;font-size:14.00px;color:#252f4a;-webkit-text-stroke:0.52px #252f4a;transform:scaleX(1.0469);transform-origin:0 0;">Cpu Gamer Ryzen 7 5700g, Ssd 1tb, Ram 16gb,m.2</span>
<span class="t" style="left:1194.96px;top:1684.35px;font-size:14.00px;color:#252f4a;-webkit-text-stroke:0.52px #252f4a;transform:scaleX(1.0632);transform-origin:0 0;">Rx Vega 8 2gb</span>
<span class="t" style="left:1194.78px;top:1704.35px;font-size:12.00px;color:#99a1b7;-webkit-text-stroke:0.28px #99a1b7;transform:scaleX(1.1298);transform-origin:0 0;">Item: #Ryzen-7-5700g</span>
<span class="t" style="left:1614.03px;top:1683.35px;font-size:14.00px;color:#252f4a;-webkit-text-stroke:0.52px #252f4a;transform:scaleX(1.0658);transform-origin:0 0;">x62</span>
<span class="t" style="left:1680.99px;top:1683.35px;font-size:14.00px;color:#252f4a;-webkit-text-stroke:0.52px #252f4a;transform:scaleX(1.0674);transform-origin:0 0;">3300 PEN</span>
<span class="t" style="left:1776.97px;top:1683.35px;font-size:14.00px;color:#252f4a;-webkit-text-stroke:0.52px #252f4a;transform:scaleX(1.0512);transform-origin:0 0;">174434 PEN</span>
<span class="t" style="left:463.24px;top:1864.20px;font-size:16.30px;color:#071437;-webkit-text-stroke:0.60px #071437;transform:scaleX(1.0596);transform-origin:0 0;">N° de ventas X Marcas</span>
<span class="t" style="left:511.89px;top:2107.65px;font-size:11.40px;color:#99a1b7;-webkit-text-stroke:0.28px #99a1b7;">ADIDAS(270)</span>
<span class="t" style="left:511.89px;top:2130.65px;font-size:11.40px;color:#99a1b7;-webkit-text-stroke:0.28px #99a1b7;transform:scaleX(0.9646);transform-origin:0 0;">APPLE(167)</span>
<span class="t" style="left:511.11px;top:2153.65px;font-size:11.40px;color:#99a1b7;-webkit-text-stroke:0.28px #99a1b7;transform:scaleX(1.0645);transform-origin:0 0;">Banpresto(39)</span>
<span class="t" style="left:511.15px;top:2176.65px;font-size:11.40px;color:#99a1b7;-webkit-text-stroke:0.28px #99a1b7;transform:scaleX(0.9875);transform-origin:0 0;">BESATTI(167)</span>
<span class="t" style="left:511.40px;top:2199.65px;font-size:11.40px;color:#99a1b7;-webkit-text-stroke:0.28px #99a1b7;transform:scaleX(0.9821);transform-origin:0 0;">CPUS(123)</span>
<span class="t" style="left:511.11px;top:2222.65px;font-size:11.40px;color:#99a1b7;-webkit-text-stroke:0.28px #99a1b7;transform:scaleX(1.0554);transform-origin:0 0;">Hiwatch Plus(65)</span>
<span class="t" style="left:511.11px;top:2245.65px;font-size:11.40px;color:#99a1b7;-webkit-text-stroke:0.28px #99a1b7;transform:scaleX(1.0647);transform-origin:0 0;">i9000 TWS(26)</span>
<span class="t" style="left:511.11px;top:2268.65px;font-size:11.40px;color:#99a1b7;-webkit-text-stroke:0.28px #99a1b7;transform:scaleX(1.0623);transform-origin:0 0;">Megahouse(43)</span>
<span class="t" style="left:511.09px;top:2291.65px;font-size:11.40px;color:#99a1b7;-webkit-text-stroke:0.28px #99a1b7;transform:scaleX(1.0999);transform-origin:0 0;">Microsoft(45)</span>
<span class="t" style="left:511.11px;top:2314.65px;font-size:11.40px;color:#99a1b7;-webkit-text-stroke:0.28px #99a1b7;transform:scaleX(1.0568);transform-origin:0 0;">Nintento(41)</span>
<span class="t" style="left:511.15px;top:2337.65px;font-size:11.40px;color:#99a1b7;-webkit-text-stroke:0.28px #99a1b7;transform:scaleX(0.9866);transform-origin:0 0;">PARAISO(47)</span>
<span class="t" style="left:511.16px;top:2360.65px;font-size:11.40px;color:#99a1b7;-webkit-text-stroke:0.28px #99a1b7;transform:scaleX(0.9826);transform-origin:0 0;">RIPLEY HOME(88)</span>
<span class="t" style="left:511.40px;top:2383.65px;font-size:11.40px;color:#99a1b7;-webkit-text-stroke:0.28px #99a1b7;transform:scaleX(0.9760);transform-origin:0 0;">SAMSUMG(181)</span>
<span class="t" style="left:511.39px;top:2406.65px;font-size:11.40px;color:#99a1b7;-webkit-text-stroke:0.28px #99a1b7;transform:scaleX(1.0091);transform-origin:0 0;">SONY(76)</span>
<span class="t" style="left:511.41px;top:2429.65px;font-size:11.40px;color:#99a1b7;-webkit-text-stroke:0.28px #99a1b7;transform:scaleX(0.9526);transform-origin:0 0;">STRAWBERRY(91)</span>
<span class="t" style="left:511.65px;top:2452.65px;font-size:11.40px;color:#99a1b7;-webkit-text-stroke:0.28px #99a1b7;transform:scaleX(0.9552);transform-origin:0 0;">TERREX(74)</span>
<span class="t" style="left:866.83px;top:1895.20px;font-size:16.30px;color:#1e2a4a;-webkit-text-stroke:0.60px #1e2a4a;transform:scaleX(1.0791);transform-origin:0 0;">Ventas X Marcas</span>
<span class="t" style="left:865.51px;top:1919.35px;font-size:13.00px;color:#99a1b7;-webkit-text-stroke:0.28px #99a1b7;transform:scaleX(1.1545);transform-origin:0 0;">Hours per course</span>
<span class="t" style="left:1698.36px;top:1885.35px;font-size:14.00px;color:#4b5675;font-weight:700;-webkit-text-stroke:0.70px #4b5675;transform:scaleX(1.1367);transform-origin:0 0;">2024</span>
<span class="t" style="left:1697.82px;top:1929.35px;font-size:14.00px;color:#4b5675;font-weight:700;-webkit-text-stroke:0.70px #4b5675;transform:scaleX(1.0763);transform-origin:0 0;">Marzo</span>
<span class="t" style="left:866.20px;top:1996.35px;font-size:12.00px;color:#99a1b7;transform:scaleX(1.2025);transform-origin:0 0;">500000</span>
<span class="t" style="left:866.20px;top:2034.35px;font-size:12.00px;color:#99a1b7;transform:scaleX(1.2025);transform-origin:0 0;">400000</span>
<span class="t" style="left:866.20px;top:2071.35px;font-size:12.00px;color:#99a1b7;transform:scaleX(1.2025);transform-origin:0 0;">300000</span>
<span class="t" style="left:865.89px;top:2109.35px;font-size:12.00px;color:#99a1b7;transform:scaleX(1.2102);transform-origin:0 0;">200000</span>
<span class="t" style="left:865.59px;top:2147.35px;font-size:12.00px;color:#99a1b7;transform:scaleX(1.2179);transform-origin:0 0;">100000</span>
<span class="t" style="left:906.25px;top:2185.35px;font-size:12.00px;color:#99a1b7;">0</span>
<span class="t" style="left:922.96px;top:2155.20px;font-size:12.30px;color:#071437;-webkit-text-stroke:0.46px #071437;transform:scaleX(1.1752);transform-origin:0 0;">45641.69</span>
<span class="t" style="left:981.39px;top:1996.20px;font-size:12.30px;color:#071437;-webkit-text-stroke:0.46px #071437;transform:scaleX(1.1752);transform-origin:0 0;">496634.7</span>
<span class="t" style="left:1053.78px;top:2171.20px;font-size:12.30px;color:#071437;-webkit-text-stroke:0.46px #071437;transform:scaleX(1.1791);transform-origin:0 0;">3389</span>
<span class="t" style="left:1098.25px;top:2161.20px;font-size:12.30px;color:#071437;-webkit-text-stroke:0.46px #071437;transform:scaleX(1.1752);transform-origin:0 0;">30445.32</span>
<span class="t" style="left:1156.68px;top:2028.20px;font-size:12.30px;color:#071437;-webkit-text-stroke:0.46px #071437;transform:scaleX(1.1694);transform-origin:0 0;">380379.3</span>
<span class="t" style="left:1218.80px;top:2171.20px;font-size:12.30px;color:#071437;-webkit-text-stroke:0.46px #071437;transform:scaleX(1.1749);transform-origin:0 0;">2265.98</span>
<span class="t" style="left:1277.72px;top:2172.20px;font-size:12.30px;color:#071437;-webkit-text-stroke:0.46px #071437;transform:scaleX(1.1935);transform-origin:0 0;">1114.85</span>
<span class="t" style="left:1335.66px;top:2161.20px;font-size:12.30px;color:#071437;-webkit-text-stroke:0.46px #071437;transform:scaleX(1.1749);transform-origin:0 0;">29570.3</span>
<span class="t" style="left:1389.80px;top:2165.20px;font-size:12.30px;color:#071437;-webkit-text-stroke:0.46px #071437;transform:scaleX(1.1869);transform-origin:0 0;">18248.12</span>
<span class="t" style="left:1448.53px;top:2151.20px;font-size:12.30px;color:#071437;-webkit-text-stroke:0.46px #071437;transform:scaleX(1.1810);transform-origin:0 0;">56365.92</span>
<span class="t" style="left:1507.26px;top:2155.20px;font-size:12.30px;color:#071437;-webkit-text-stroke:0.46px #071437;transform:scaleX(1.1752);transform-origin:0 0;">45214.42</span>
<span class="t" style="left:1565.39px;top:2149.20px;font-size:12.30px;color:#071437;-webkit-text-stroke:0.46px #071437;transform:scaleX(1.1810);transform-origin:0 0;">60491.79</span>
<span class="t" style="left:1620.13px;top:2052.20px;font-size:12.30px;color:#071437;-webkit-text-stroke:0.46px #071437;transform:scaleX(1.1703);transform-origin:0 0;">317921.95</span>
<span class="t" style="left:1677.97px;top:2116.20px;font-size:12.30px;color:#071437;-webkit-text-stroke:0.46px #071437;transform:scaleX(1.1805);transform-origin:0 0;">148268.95</span>
<span class="t" style="left:1740.98px;top:2155.20px;font-size:12.30px;color:#071437;-webkit-text-stroke:0.46px #071437;transform:scaleX(1.1694);transform-origin:0 0;">45641.06</span>
<span class="t" style="left:1799.11px;top:2161.20px;font-size:12.30px;color:#071437;-webkit-text-stroke:0.46px #071437;transform:scaleX(1.1752);transform-origin:0 0;">28887.25</span>
<div id="bottomstrip"></div>
</body>
</html>
